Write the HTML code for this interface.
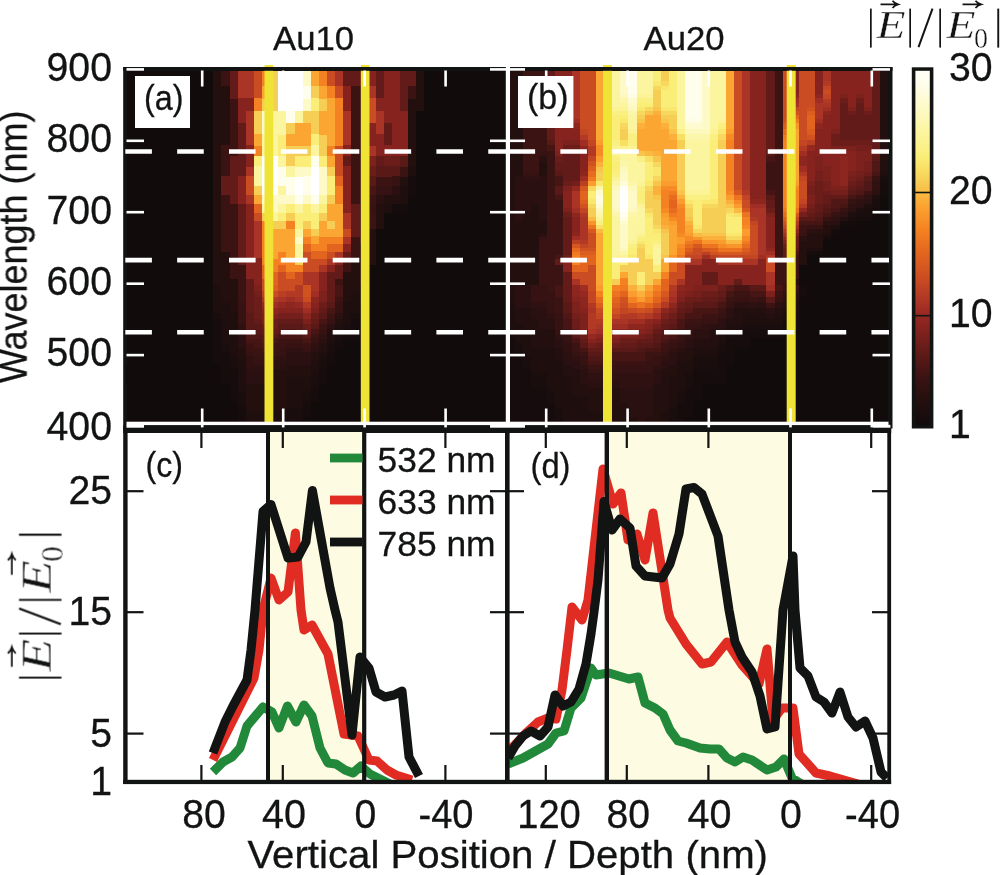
<!DOCTYPE html>
<html><head><meta charset="utf-8"><title>Figure</title>
<style>html,body{margin:0;padding:0;background:#fff;}body{width:1000px;height:875px;overflow:hidden;font-family:"Liberation Sans", sans-serif;}</style>
</head><body>
<svg width="1000" height="875" viewBox="0 0 1000 875" style="display:block">
<rect width="1000" height="875" fill="#fff"/>
<rect x="123.2" y="67" width="769.3" height="361.5" fill="#121413"/>
<g shape-rendering="crispEdges">
<path fill="#110b0c" d="M126.5 70.5h86.8v15.3h-86.8zM424.4 70.5h81.2v15.3h-81.2zM126.5 85.5h86.8v13.2h-86.8zM424.4 85.5h81.2v13.2h-81.2zM126.5 98.4h86.8v12.8h-86.8zM424.4 98.4h81.2v12.8h-81.2zM126.5 110.9h86.8v12.3h-86.8zM416.3 110.9h89.3v12.3h-89.3zM126.5 122.9h86.8v11.7h-86.8zM416.3 122.9h89.3v11.7h-89.3zM126.5 134.3h86.8v11.4h-86.8zM416.3 134.3h89.3v11.4h-89.3zM126.5 145.4h86.8v10.9h-86.8zM416.3 145.4h89.3v10.9h-89.3zM126.5 156h86.8v10.6h-86.8zM416.3 156h89.3v10.6h-89.3zM126.5 166.3h86.8v10.2h-86.8zM416.3 166.3h89.3v10.2h-89.3zM126.5 176.2h86.8v9.8h-86.8zM416.3 176.2h89.3v9.8h-89.3zM126.5 185.7h86.8v9.5h-86.8zM416.3 185.7h89.3v9.5h-89.3zM126.5 194.9h86.8v9.1h-86.8zM408.2 194.9h97.4v9.1h-97.4zM126.5 203.7h86.8v8.9h-86.8zM408.2 203.7h97.4v8.9h-97.4zM126.5 212.3h86.8v8.6h-86.8zM383.8 212.3h121.8v8.6h-121.8zM126.5 220.6h86.8v8.3h-86.8zM383.8 220.6h121.8v8.3h-121.8zM126.5 228.6h86.8v8.1h-86.8zM375.7 228.6h129.9v8.1h-129.9zM126.5 236.4h86.8v7.8h-86.8zM375.7 236.4h129.9v7.8h-129.9zM126.5 243.9h86.8v7.6h-86.8zM375.7 243.9h129.9v7.6h-129.9zM126.5 251.2h86.8v7.4h-86.8zM375.7 251.2h129.9v7.4h-129.9zM126.5 258.3h86.8v7.1h-86.8zM375.7 258.3h129.9v7.1h-129.9zM126.5 265.1h86.8v7h-86.8zM367.6 265.1h138v7h-138zM126.5 271.8h86.8v6.7h-86.8zM367.6 271.8h138v6.7h-138zM126.5 278.2h86.8v6.6h-86.8zM367.6 278.2h138v6.6h-138zM126.5 284.5h86.8v6.3h-86.8zM367.6 284.5h138v6.3h-138zM126.5 290.5h86.8v6.3h-86.8zM367.6 290.5h138v6.3h-138zM126.5 296.5h86.8v6h-86.8zM367.6 296.5h138v6h-138zM126.5 302.2h86.8v5.9h-86.8zM367.6 302.2h138v5.9h-138zM126.5 307.8h86.8v5.8h-86.8zM359.5 307.8h146.1v5.8h-146.1zM126.5 313.3h86.8v5.6h-86.8zM359.5 313.3h146.1v5.6h-146.1zM126.5 318.6h86.8v5.4h-86.8zM359.5 318.6h146.1v5.4h-146.1zM126.5 323.7h86.8v5.3h-86.8zM359.5 323.7h146.1v5.3h-146.1zM126.5 328.7h86.8v5.2h-86.8zM359.5 328.7h146.1v5.2h-146.1zM126.5 333.6h86.8v5.1h-86.8zM359.5 333.6h146.1v5.1h-146.1zM126.5 338.4h86.8v5h-86.8zM343.2 338.4h162.4v5h-162.4zM126.5 343.1h86.8v4.8h-86.8zM343.2 343.1h162.4v4.8h-162.4zM126.5 347.6h86.8v4.7h-86.8zM335.1 347.6h170.5v4.7h-170.5zM126.5 352h86.8v4.7h-86.8zM335.1 352h170.5v4.7h-170.5zM126.5 356.4h86.8v4.5h-86.8zM335.1 356.4h170.5v4.5h-170.5zM126.5 360.6h86.8v4.4h-86.8zM335.1 360.6h170.5v4.4h-170.5zM126.5 364.7h94.9v4.3h-94.9zM327 364.7h178.6v4.3h-178.6zM126.5 368.7h94.9v4.3h-94.9zM327 368.7h178.6v4.3h-178.6zM126.5 372.7h94.9v4.1h-94.9zM327 372.7h178.6v4.1h-178.6zM126.5 376.5h94.9v4.1h-94.9zM327 376.5h178.6v4.1h-178.6zM126.5 380.3h94.9v3.9h-94.9zM327 380.3h178.6v3.9h-178.6zM126.5 383.9h103.1v3.9h-103.1zM318.9 383.9h186.7v3.9h-186.7zM126.5 387.5h103.1v3.9h-103.1zM318.9 387.5h186.7v3.9h-186.7zM126.5 391.1h103.1v3.7h-103.1zM318.9 391.1h186.7v3.7h-186.7zM126.5 394.5h103.1v3.7h-103.1zM318.9 394.5h186.7v3.7h-186.7zM126.5 397.9h103.1v3.6h-103.1zM318.9 397.9h186.7v3.6h-186.7zM126.5 401.2h111.2v3.5h-111.2zM310.8 401.2h194.8v3.5h-194.8zM126.5 404.4h111.2v3.5h-111.2zM310.8 404.4h194.8v3.5h-194.8zM126.5 407.6h111.2v3.4h-111.2zM310.8 407.6h194.8v3.4h-194.8zM126.5 410.7h111.2v3.3h-111.2zM310.8 410.7h194.8v3.3h-194.8zM126.5 413.7h111.2v3.3h-111.2zM310.8 413.7h194.8v3.3h-194.8zM126.5 416.7h111.2v3.2h-111.2zM302.6 416.7h203v3.2h-203zM126.5 419.6h111.2v3.3h-111.2zM302.6 419.6h203v3.3h-203z"/>
<path fill="#240f0f" d="M213.3 70.5h8.1v15.3h-8.1zM416.3 70.5h8.1v15.3h-8.1zM213.3 85.5h16.3v13.2h-16.3zM416.3 85.5h8.1v13.2h-8.1zM213.3 98.4h16.3v12.8h-16.3zM408.2 98.4h16.2v12.8h-16.2zM213.3 110.9h16.3v12.3h-16.3zM408.2 110.9h8.1v12.3h-8.1zM213.3 122.9h16.3v11.7h-16.3zM408.2 122.9h8.1v11.7h-8.1zM213.3 134.3h16.3v11.4h-16.3zM408.2 134.3h8.1v11.4h-8.1zM213.3 145.4h8.1v10.9h-8.1zM408.2 145.4h8.1v10.9h-8.1zM213.3 156h8.1v10.6h-8.1zM408.2 156h8.1v10.6h-8.1zM213.3 166.3h8.1v10.2h-8.1zM213.3 176.2h8.1v9.8h-8.1zM400.1 176.2h8.1v9.8h-8.1zM213.3 185.7h8.1v9.5h-8.1zM213.3 194.9h8.1v9.1h-8.1zM383.8 194.9h16.3v9.1h-16.3zM213.3 203.7h8.1v8.9h-8.1zM375.7 203.7h8.1v8.9h-8.1zM213.3 212.3h8.1v8.6h-8.1zM375.7 212.3h8.1v8.6h-8.1zM213.3 220.6h8.1v8.3h-8.1zM375.7 220.6h8.1v8.3h-8.1zM213.3 228.6h8.1v8.1h-8.1zM367.6 228.6h8.1v8.1h-8.1zM213.3 236.4h8.1v7.8h-8.1zM367.6 236.4h8.1v7.8h-8.1zM213.3 243.9h8.1v7.6h-8.1zM359.5 243.9h16.2v7.6h-16.2zM213.3 251.2h16.3v7.4h-16.3zM359.5 251.2h16.2v7.4h-16.2zM213.3 258.3h16.3v7.1h-16.3zM351.4 258.3h24.3v7.1h-24.3zM213.3 265.1h16.3v7h-16.3zM351.4 265.1h16.2v7h-16.2zM213.3 271.8h16.3v6.7h-16.3zM343.2 271.8h24.4v6.7h-24.4zM213.3 278.2h24.4v6.6h-24.4zM343.2 278.2h24.4v6.6h-24.4zM221.4 284.5h16.3v6.3h-16.3zM343.2 284.5h16.3v6.3h-16.3zM221.4 290.5h16.3v6.3h-16.3zM343.2 290.5h8.2v6.3h-8.2zM221.4 296.5h16.3v6h-16.3zM343.2 296.5h8.2v6h-8.2zM229.6 302.2h8.1v5.9h-8.1zM229.6 307.8h8.1v5.8h-8.1zM335.1 318.6h8.1v5.4h-8.1zM327 328.7h8.1v5.2h-8.1zM318.9 343.1h8.1v4.8h-8.1zM237.7 347.6h8.1v4.7h-8.1zM318.9 347.6h8.1v4.7h-8.1zM237.7 352h8.1v4.7h-8.1zM310.8 352h8.1v4.7h-8.1zM237.7 356.4h8.1v4.5h-8.1zM310.8 356.4h8.1v4.5h-8.1zM286.4 364.7h24.4v4.3h-24.4zM270.2 368.7h40.6v4.3h-40.6zM270.2 372.7h40.6v4.1h-40.6zM270.2 376.5h16.2v4.1h-16.2zM270.2 380.3h16.2v3.9h-16.2zM245.8 383.9h40.6v3.9h-40.6zM245.8 387.5h40.6v3.9h-40.6zM245.8 391.1h40.6v3.7h-40.6zM245.8 394.5h40.6v3.7h-40.6zM245.8 397.9h40.6v3.6h-40.6zM245.8 401.2h40.6v3.5h-40.6zM245.8 404.4h40.6v3.5h-40.6zM245.8 407.6h40.6v3.4h-40.6z"/>
<path fill="#3c1313" d="M221.4 70.5h8.2v15.3h-8.2zM351.4 85.5h16.2v13.2h-16.2zM408.2 85.5h8.1v13.2h-8.1zM229.6 98.4h8.1v12.8h-8.1zM351.4 98.4h16.2v12.8h-16.2zM229.6 110.9h8.1v12.3h-8.1zM351.4 110.9h16.2v12.3h-16.2zM229.6 122.9h8.1v11.7h-8.1zM351.4 122.9h16.2v11.7h-16.2zM229.6 134.3h8.1v11.4h-8.1zM351.4 134.3h16.2v11.4h-16.2zM221.4 145.4h16.3v10.9h-16.3zM351.4 145.4h16.2v10.9h-16.2zM221.4 156h8.2v10.6h-8.2zM351.4 156h16.2v10.6h-16.2zM221.4 166.3h8.2v10.2h-8.2zM351.4 166.3h16.2v10.2h-16.2zM400.1 166.3h8.1v10.2h-8.1zM351.4 176.2h16.2v9.8h-16.2zM375.7 176.2h16.3v9.8h-16.3zM351.4 185.7h16.2v9.5h-16.2zM221.4 194.9h8.2v9.1h-8.2zM351.4 194.9h24.3v9.1h-24.3zM221.4 203.7h16.3v8.9h-16.3zM359.5 203.7h8.1v8.9h-8.1zM221.4 212.3h16.3v8.6h-16.3zM359.5 212.3h16.2v8.6h-16.2zM221.4 220.6h16.3v8.3h-16.3zM359.5 220.6h16.2v8.3h-16.2zM221.4 228.6h16.3v8.1h-16.3zM359.5 228.6h8.1v8.1h-8.1zM221.4 236.4h16.3v7.8h-16.3zM351.4 236.4h16.2v7.8h-16.2zM221.4 243.9h16.3v7.6h-16.3zM351.4 243.9h8.1v7.6h-8.1zM229.6 251.2h8.1v7.4h-8.1zM351.4 251.2h8.1v7.4h-8.1zM229.6 258.3h8.1v7.1h-8.1zM343.2 258.3h8.2v7.1h-8.2zM229.6 265.1h16.2v7h-16.2zM343.2 265.1h8.2v7h-8.2zM229.6 271.8h16.2v6.7h-16.2zM237.7 278.2h8.1v6.6h-8.1zM335.1 278.2h8.1v6.6h-8.1zM237.7 284.5h8.1v6.3h-8.1zM237.7 290.5h8.1v6.3h-8.1zM237.7 296.5h8.1v6h-8.1zM335.1 296.5h8.1v6h-8.1zM327 313.3h8.1v5.6h-8.1zM318.9 323.7h8.1v5.3h-8.1zM310.8 333.6h8.1v5.1h-8.1zM278.3 338.4h24.3v5h-24.3zM245.8 343.1h8.1v4.8h-8.1zM270.2 343.1h16.2v4.8h-16.2zM302.6 343.1h8.2v4.8h-8.2zM245.8 347.6h16.2v4.7h-16.2zM270.2 347.6h8.1v4.7h-8.1zM253.9 352h16.3v4.7h-16.3z"/>
<path fill="#621b18" d="M229.6 70.5h8.1v15.3h-8.1zM343.2 70.5h24.4v15.3h-24.4zM375.7 70.5h8.1v15.3h-8.1zM400.1 70.5h16.2v15.3h-16.2zM229.6 85.5h8.1v13.2h-8.1zM375.7 85.5h8.1v13.2h-8.1zM400.1 85.5h8.1v13.2h-8.1zM400.1 98.4h8.1v12.8h-8.1zM237.7 122.9h8.1v11.7h-8.1zM383.8 122.9h8.2v11.7h-8.2zM237.7 134.3h8.1v11.4h-8.1zM383.8 134.3h8.2v11.4h-8.2zM237.7 145.4h8.1v10.9h-8.1zM229.6 156h16.2v10.6h-16.2zM343.2 156h8.2v10.6h-8.2zM375.7 156h8.1v10.6h-8.1zM229.6 166.3h16.2v10.2h-16.2zM221.4 176.2h16.3v9.8h-16.3zM221.4 185.7h16.3v9.5h-16.3zM229.6 194.9h8.1v9.1h-8.1zM237.7 203.7h8.1v8.9h-8.1zM351.4 203.7h8.1v8.9h-8.1zM237.7 212.3h8.1v8.6h-8.1zM351.4 212.3h8.1v8.6h-8.1zM237.7 220.6h8.1v8.3h-8.1zM351.4 220.6h8.1v8.3h-8.1zM237.7 228.6h8.1v8.1h-8.1zM351.4 228.6h8.1v8.1h-8.1zM237.7 236.4h8.1v7.8h-8.1zM237.7 243.9h8.1v7.6h-8.1zM237.7 251.2h8.1v7.4h-8.1zM343.2 251.2h8.2v7.4h-8.2zM237.7 258.3h8.1v7.1h-8.1zM335.1 265.1h8.1v7h-8.1zM327 271.8h16.2v6.7h-16.2zM245.8 278.2h8.1v6.6h-8.1zM327 278.2h8.1v6.6h-8.1zM245.8 284.5h8.1v6.3h-8.1zM327 284.5h8.1v6.3h-8.1zM245.8 290.5h8.1v6.3h-8.1zM327 290.5h8.1v6.3h-8.1zM245.8 296.5h8.1v6h-8.1zM327 296.5h8.1v6h-8.1zM245.8 302.2h8.1v5.9h-8.1zM245.8 307.8h8.1v5.8h-8.1zM318.9 307.8h8.1v5.8h-8.1zM253.9 318.6h8.1v5.4h-8.1zM278.3 318.6h24.3v5.4h-24.3zM310.8 318.6h8.1v5.4h-8.1zM262 328.7h16.3v5.2h-16.3zM302.6 328.7h8.2v5.2h-8.2z"/>
<path fill="#aa3425" d="M237.7 70.5h16.2v15.3h-16.2zM335.1 70.5h8.1v15.3h-8.1zM237.7 85.5h16.2v13.2h-16.2zM367.6 85.5h8.1v13.2h-8.1zM245.8 110.9h8.1v12.3h-8.1zM343.2 110.9h8.2v12.3h-8.2zM375.7 110.9h8.1v12.3h-8.1zM245.8 122.9h8.1v11.7h-8.1zM343.2 122.9h8.2v11.7h-8.2zM375.7 122.9h8.1v11.7h-8.1zM245.8 134.3h8.1v11.4h-8.1zM343.2 134.3h8.2v11.4h-8.2zM367.6 145.4h8.1v10.9h-8.1zM245.8 166.3h8.1v10.2h-8.1zM245.8 194.9h8.1v9.1h-8.1zM343.2 212.3h8.2v8.6h-8.2zM253.9 220.6h8.1v8.3h-8.1zM343.2 220.6h8.2v8.3h-8.2zM253.9 228.6h8.1v8.1h-8.1zM253.9 236.4h8.1v7.8h-8.1zM343.2 236.4h8.2v7.8h-8.2zM253.9 243.9h8.1v7.6h-8.1zM253.9 251.2h8.1v7.4h-8.1zM335.1 251.2h8.1v7.4h-8.1zM327 258.3h8.1v7.1h-8.1zM318.9 265.1h8.1v7h-8.1zM302.6 271.8h16.3v6.7h-16.3zM302.6 278.2h16.3v6.6h-16.3zM310.8 284.5h8.1v6.3h-8.1zM262 296.5h8.2v6h-8.2zM278.3 296.5h8.1v6h-8.1zM294.5 296.5h8.1v6h-8.1z"/>
<path fill="#ca4c22" d="M253.9 70.5h8.1v15.3h-8.1zM327 70.5h8.1v15.3h-8.1zM253.9 85.5h8.1v13.2h-8.1zM335.1 85.5h8.1v13.2h-8.1zM367.6 98.4h8.1v12.8h-8.1zM367.6 110.9h8.1v12.3h-8.1zM335.1 145.4h8.1v10.9h-8.1zM335.1 156h8.1v10.6h-8.1zM335.1 166.3h8.1v10.2h-8.1zM245.8 176.2h8.1v9.8h-8.1zM245.8 185.7h8.1v9.5h-8.1zM253.9 212.3h8.1v8.6h-8.1zM343.2 228.6h8.2v8.1h-8.2zM302.6 251.2h8.2v7.4h-8.2zM327 251.2h8.1v7.4h-8.1zM302.6 258.3h24.4v7.1h-24.4zM302.6 265.1h16.3v7h-16.3zM278.3 271.8h8.1v6.7h-8.1zM294.5 271.8h8.1v6.7h-8.1zM262 278.2h8.2v6.6h-8.2zM278.3 278.2h24.3v6.6h-24.3zM262 284.5h8.2v6.3h-8.2zM278.3 284.5h16.2v6.3h-16.2zM270.2 290.5h8.1v6.3h-8.1zM302.6 296.5h8.2v6h-8.2z"/>
<path fill="#f58222" d="M262 70.5h8.2v15.3h-8.2zM318.9 70.5h8.1v15.3h-8.1zM327 85.5h8.1v13.2h-8.1zM253.9 98.4h8.1v12.8h-8.1zM335.1 98.4h8.1v12.8h-8.1zM335.1 110.9h8.1v12.3h-8.1zM335.1 122.9h8.1v11.7h-8.1zM335.1 134.3h8.1v11.4h-8.1zM253.9 145.4h8.1v10.9h-8.1zM327 145.4h8.1v10.9h-8.1zM335.1 185.7h8.1v9.5h-8.1zM335.1 194.9h8.1v9.1h-8.1zM262 220.6h8.2v8.3h-8.2zM286.4 220.6h8.1v8.3h-8.1zM262 228.6h8.2v8.1h-8.2zM262 236.4h8.2v7.8h-8.2zM302.6 236.4h8.2v7.8h-8.2zM318.9 236.4h24.3v7.8h-24.3zM262 243.9h8.2v7.6h-8.2zM310.8 243.9h16.2v7.6h-16.2zM262 251.2h8.2v7.4h-8.2zM278.3 251.2h8.1v7.4h-8.1zM262 258.3h32.5v7.1h-32.5zM270.2 265.1h8.1v7h-8.1zM286.4 265.1h16.2v7h-16.2z"/>
<path fill="#f6ce56" d="M270.2 70.5h8.1v15.3h-8.1zM270.2 85.5h8.1v13.2h-8.1zM310.8 85.5h8.1v13.2h-8.1zM262 98.4h16.3v12.8h-16.3zM318.9 98.4h8.1v12.8h-8.1zM253.9 110.9h8.1v12.3h-8.1zM302.6 110.9h16.3v12.3h-16.3zM253.9 122.9h8.1v11.7h-8.1zM286.4 122.9h8.1v11.7h-8.1zM310.8 122.9h8.1v11.7h-8.1zM318.9 134.3h8.1v11.4h-8.1zM286.4 145.4h24.4v10.9h-24.4zM318.9 145.4h8.1v10.9h-8.1zM286.4 156h8.1v10.6h-8.1zM327 166.3h8.1v10.2h-8.1zM253.9 185.7h8.1v9.5h-8.1zM327 194.9h8.1v9.1h-8.1zM262 212.3h8.2v8.6h-8.2zM286.4 212.3h8.1v8.6h-8.1zM318.9 212.3h8.1v8.6h-8.1zM270.2 220.6h16.2v8.3h-16.2zM302.6 220.6h8.2v8.3h-8.2zM327 220.6h8.1v8.3h-8.1zM310.8 228.6h8.1v8.1h-8.1zM294.5 258.3h8.1v7.1h-8.1z"/>
<path fill="#ffffff" d="M278.3 70.5h24.3v15.3h-24.3zM278.3 85.5h24.3v13.2h-24.3zM278.3 98.4h24.3v12.8h-24.3zM262 156h16.3v10.6h-16.3zM262 166.3h16.3v10.2h-16.3zM310.8 166.3h8.1v10.2h-8.1zM262 176.2h16.3v9.8h-16.3zM294.5 176.2h8.1v9.8h-8.1zM310.8 176.2h8.1v9.8h-8.1zM262 185.7h16.3v9.5h-16.3zM294.5 185.7h8.1v9.5h-8.1zM310.8 185.7h8.1v9.5h-8.1z"/>
<path fill="#fdfac8" d="M302.6 70.5h8.2v15.3h-8.2zM302.6 98.4h8.2v12.8h-8.2zM262 110.9h8.2v12.3h-8.2zM262 122.9h8.2v11.7h-8.2zM294.5 166.3h16.3v10.2h-16.3zM318.9 166.3h8.1v10.2h-8.1zM318.9 176.2h8.1v9.8h-8.1zM318.9 185.7h8.1v9.5h-8.1zM262 194.9h32.5v9.1h-32.5zM302.6 194.9h8.2v9.1h-8.2zM270.2 203.7h8.1v8.9h-8.1zM294.5 236.4h8.1v7.8h-8.1z"/>
<path fill="#fba532" d="M310.8 70.5h8.1v15.3h-8.1zM262 85.5h8.2v13.2h-8.2zM318.9 85.5h8.1v13.2h-8.1zM327 98.4h8.1v12.8h-8.1zM318.9 110.9h16.2v12.3h-16.2zM294.5 122.9h16.3v11.7h-16.3zM318.9 122.9h16.2v11.7h-16.2zM253.9 134.3h8.1v11.4h-8.1zM286.4 134.3h24.4v11.4h-24.4zM327 134.3h8.1v11.4h-8.1zM327 156h8.1v10.6h-8.1zM253.9 194.9h8.1v9.1h-8.1zM327 203.7h16.2v8.9h-16.2zM327 212.3h16.2v8.6h-16.2zM318.9 220.6h8.1v8.3h-8.1zM335.1 220.6h8.1v8.3h-8.1zM270.2 228.6h24.3v8.1h-24.3zM302.6 228.6h8.2v8.1h-8.2zM318.9 228.6h24.3v8.1h-24.3zM270.2 236.4h24.3v7.8h-24.3zM310.8 236.4h8.1v7.8h-8.1zM270.2 243.9h24.3v7.6h-24.3zM270.2 251.2h8.1v7.4h-8.1zM286.4 251.2h8.1v7.4h-8.1z"/>
<path fill="#86231f" d="M367.6 70.5h8.1v15.3h-8.1zM383.8 70.5h16.3v15.3h-16.3zM343.2 85.5h8.2v13.2h-8.2zM383.8 85.5h16.3v13.2h-16.3zM237.7 98.4h16.2v12.8h-16.2zM343.2 98.4h8.2v12.8h-8.2zM375.7 98.4h24.4v12.8h-24.4zM237.7 110.9h8.1v12.3h-8.1zM383.8 110.9h24.4v12.3h-24.4zM367.6 122.9h8.1v11.7h-8.1zM392 122.9h16.2v11.7h-16.2zM367.6 134.3h16.2v11.4h-16.2zM392 134.3h16.2v11.4h-16.2zM245.8 145.4h8.1v10.9h-8.1zM343.2 145.4h8.2v10.9h-8.2zM375.7 145.4h32.5v10.9h-32.5zM245.8 156h8.1v10.6h-8.1zM343.2 166.3h8.2v10.2h-8.2zM237.7 176.2h8.1v9.8h-8.1zM343.2 176.2h8.2v9.8h-8.2zM237.7 185.7h8.1v9.5h-8.1zM343.2 185.7h8.2v9.5h-8.2zM237.7 194.9h8.1v9.1h-8.1zM343.2 194.9h8.2v9.1h-8.2zM245.8 203.7h8.1v8.9h-8.1zM343.2 203.7h8.2v8.9h-8.2zM245.8 212.3h8.1v8.6h-8.1zM245.8 220.6h8.1v8.3h-8.1zM245.8 228.6h8.1v8.1h-8.1zM245.8 236.4h8.1v7.8h-8.1zM245.8 243.9h8.1v7.6h-8.1zM343.2 243.9h8.2v7.6h-8.2zM245.8 251.2h8.1v7.4h-8.1zM245.8 258.3h16.2v7.1h-16.2zM335.1 258.3h8.1v7.1h-8.1zM245.8 265.1h16.2v7h-16.2zM327 265.1h8.1v7h-8.1zM245.8 271.8h16.2v6.7h-16.2zM318.9 271.8h8.1v6.7h-8.1zM253.9 278.2h8.1v6.6h-8.1zM318.9 278.2h8.1v6.6h-8.1zM318.9 284.5h8.1v6.3h-8.1zM310.8 302.2h8.1v5.9h-8.1zM262 307.8h8.2v5.8h-8.2zM278.3 307.8h24.3v5.8h-24.3z"/>
<path fill="#fffdec" d="M302.6 85.5h8.2v13.2h-8.2zM286.4 110.9h8.1v12.3h-8.1zM310.8 156h8.1v10.6h-8.1zM278.3 166.3h8.1v10.2h-8.1zM278.3 176.2h16.2v9.8h-16.2zM302.6 176.2h8.2v9.8h-8.2zM286.4 185.7h8.1v9.5h-8.1zM302.6 185.7h8.2v9.5h-8.2zM294.5 194.9h8.1v9.1h-8.1zM310.8 194.9h8.1v9.1h-8.1z"/>
<path fill="#faee78" d="M310.8 98.4h8.1v12.8h-8.1zM278.3 134.3h8.1v11.4h-8.1zM310.8 134.3h8.1v11.4h-8.1zM278.3 145.4h8.1v10.9h-8.1zM253.9 156h8.1v10.6h-8.1zM294.5 156h16.3v10.6h-16.3zM318.9 156h8.1v10.6h-8.1zM327 176.2h8.1v9.8h-8.1zM327 185.7h8.1v9.5h-8.1zM286.4 203.7h8.1v8.9h-8.1zM302.6 203.7h8.2v8.9h-8.2zM318.9 203.7h8.1v8.9h-8.1zM278.3 212.3h8.1v8.6h-8.1zM294.5 212.3h24.4v8.6h-24.4zM294.5 220.6h8.1v8.3h-8.1zM310.8 220.6h8.1v8.3h-8.1z"/>
<path fill="#fcf5a0" d="M270.2 110.9h16.2v12.3h-16.2zM294.5 110.9h8.1v12.3h-8.1zM270.2 122.9h16.2v11.7h-16.2zM262 134.3h16.3v11.4h-16.3zM262 145.4h16.3v10.9h-16.3zM310.8 145.4h8.1v10.9h-8.1zM278.3 156h8.1v10.6h-8.1zM253.9 166.3h8.1v10.2h-8.1zM286.4 166.3h8.1v10.2h-8.1zM253.9 176.2h8.1v9.8h-8.1zM278.3 185.7h8.1v9.5h-8.1zM318.9 194.9h8.1v9.1h-8.1zM262 203.7h8.2v8.9h-8.2zM278.3 203.7h8.1v8.9h-8.1zM294.5 203.7h8.1v8.9h-8.1zM310.8 203.7h8.1v8.9h-8.1zM270.2 212.3h8.1v8.6h-8.1zM294.5 228.6h8.1v8.1h-8.1zM294.5 243.9h8.1v7.6h-8.1zM294.5 251.2h8.1v7.4h-8.1z"/>
<path fill="#7d211d" d="M367.6 156h8.1v10.6h-8.1zM253.9 284.5h8.1v6.3h-8.1zM318.9 290.5h8.1v6.3h-8.1zM318.9 296.5h8.1v6h-8.1zM310.8 307.8h8.1v5.8h-8.1zM262 313.3h16.3v5.6h-16.3zM262 318.6h8.2v5.4h-8.2zM302.6 318.6h8.2v5.4h-8.2z"/>
<path fill="#6b1d1a" d="M383.8 156h16.3v10.6h-16.3zM367.6 166.3h8.1v10.2h-8.1zM253.9 296.5h8.1v6h-8.1zM253.9 302.2h8.1v5.9h-8.1zM318.9 302.2h8.1v5.9h-8.1zM253.9 307.8h8.1v5.8h-8.1zM253.9 313.3h8.1v5.6h-8.1zM310.8 313.3h8.1v5.6h-8.1zM270.2 318.6h8.1v5.4h-8.1zM262 323.7h16.3v5.3h-16.3zM302.6 323.7h8.2v5.3h-8.2z"/>
<path fill="#581917" d="M400.1 156h8.1v10.6h-8.1zM375.7 166.3h24.4v10.2h-24.4zM367.6 176.2h8.1v9.8h-8.1zM327 302.2h8.1v5.9h-8.1zM245.8 313.3h8.1v5.6h-8.1zM318.9 313.3h8.1v5.6h-8.1zM245.8 318.6h8.1v5.4h-8.1zM245.8 323.7h16.2v5.3h-16.2zM278.3 323.7h24.3v5.3h-24.3zM310.8 323.7h8.1v5.3h-8.1zM245.8 328.7h16.2v5.2h-16.2zM278.3 328.7h8.1v5.2h-8.1zM294.5 328.7h8.1v5.2h-8.1zM262 333.6h16.3v5.1h-16.3zM302.6 333.6h8.2v5.1h-8.2zM262 338.4h8.2v5h-8.2z"/>
<path fill="#1f0e0e" d="M408.2 166.3h8.1v10.2h-8.1zM400.1 185.7h8.1v9.5h-8.1zM400.1 194.9h8.1v9.1h-8.1zM383.8 203.7h8.2v8.9h-8.2zM213.3 284.5h8.1v6.3h-8.1zM213.3 290.5h8.1v6.3h-8.1zM351.4 290.5h8.1v6.3h-8.1zM213.3 296.5h8.1v6h-8.1zM351.4 296.5h8.1v6h-8.1zM213.3 302.2h16.3v5.9h-16.3zM343.2 302.2h16.3v5.9h-16.3zM213.3 307.8h16.3v5.8h-16.3zM343.2 307.8h16.3v5.8h-16.3zM221.4 313.3h16.3v5.6h-16.3zM343.2 313.3h8.2v5.6h-8.2zM221.4 318.6h16.3v5.4h-16.3zM343.2 318.6h8.2v5.4h-8.2zM221.4 323.7h16.3v5.3h-16.3zM335.1 323.7h8.1v5.3h-8.1zM221.4 328.7h16.3v5.2h-16.3zM335.1 328.7h8.1v5.2h-8.1zM221.4 333.6h16.3v5.1h-16.3zM327 333.6h8.1v5.1h-8.1zM221.4 338.4h16.3v5h-16.3zM327 338.4h8.1v5h-8.1zM229.6 343.1h8.1v4.8h-8.1zM229.6 347.6h8.1v4.7h-8.1zM229.6 352h8.1v4.7h-8.1zM318.9 352h8.1v4.7h-8.1zM237.7 360.6h8.1v4.4h-8.1zM310.8 360.6h8.1v4.4h-8.1zM237.7 364.7h8.1v4.3h-8.1zM310.8 364.7h8.1v4.3h-8.1zM237.7 368.7h8.1v4.3h-8.1zM310.8 368.7h8.1v4.3h-8.1zM237.7 372.7h8.1v4.1h-8.1zM237.7 376.5h8.1v4.1h-8.1zM286.4 376.5h24.4v4.1h-24.4zM237.7 380.3h8.1v3.9h-8.1zM286.4 380.3h24.4v3.9h-24.4zM237.7 383.9h8.1v3.9h-8.1zM286.4 383.9h24.4v3.9h-24.4zM237.7 387.5h8.1v3.9h-8.1zM286.4 387.5h24.4v3.9h-24.4zM286.4 391.1h16.2v3.7h-16.2zM286.4 394.5h16.2v3.7h-16.2zM286.4 397.9h16.2v3.6h-16.2zM286.4 401.2h16.2v3.5h-16.2zM286.4 404.4h16.2v3.5h-16.2zM245.8 410.7h40.6v3.3h-40.6zM245.8 413.7h40.6v3.3h-40.6zM245.8 416.7h40.6v3.2h-40.6zM245.8 419.6h40.6v3.3h-40.6z"/>
<path fill="#e2641e" d="M335.1 176.2h8.1v9.8h-8.1zM253.9 203.7h8.1v8.9h-8.1zM302.6 243.9h8.2v7.6h-8.2zM327 243.9h16.2v7.6h-16.2zM310.8 251.2h16.2v7.4h-16.2zM262 265.1h8.2v7h-8.2zM278.3 265.1h8.1v7h-8.1zM262 271.8h16.3v6.7h-16.3zM286.4 271.8h8.1v6.7h-8.1zM270.2 278.2h8.1v6.6h-8.1z"/>
<path fill="#361212" d="M392 176.2h8.1v9.8h-8.1zM375.7 185.7h16.3v9.5h-16.3zM367.6 203.7h8.1v8.9h-8.1zM237.7 302.2h8.1v5.9h-8.1zM335.1 302.2h8.1v5.9h-8.1zM237.7 307.8h8.1v5.8h-8.1zM335.1 307.8h8.1v5.8h-8.1zM237.7 313.3h8.1v5.6h-8.1zM237.7 318.6h8.1v5.4h-8.1zM327 318.6h8.1v5.4h-8.1zM318.9 328.7h8.1v5.2h-8.1zM310.8 338.4h8.1v5h-8.1zM286.4 343.1h16.2v4.8h-16.2zM278.3 347.6h8.1v4.7h-8.1zM302.6 347.6h8.2v4.7h-8.2zM245.8 352h8.1v4.7h-8.1zM270.2 352h16.2v4.7h-16.2zM253.9 356.4h16.3v4.5h-16.3zM253.9 360.6h16.3v4.4h-16.3z"/>
<path fill="#160c0d" d="M408.2 176.2h8.1v9.8h-8.1zM408.2 185.7h8.1v9.5h-8.1zM392 203.7h16.2v8.9h-16.2zM359.5 284.5h8.1v6.3h-8.1zM359.5 290.5h8.1v6.3h-8.1zM359.5 296.5h8.1v6h-8.1zM359.5 302.2h8.1v5.9h-8.1zM213.3 318.6h8.1v5.4h-8.1zM351.4 318.6h8.1v5.4h-8.1zM213.3 323.7h8.1v5.3h-8.1zM351.4 323.7h8.1v5.3h-8.1zM213.3 328.7h8.1v5.2h-8.1zM343.2 328.7h16.3v5.2h-16.3zM213.3 333.6h8.1v5.1h-8.1zM343.2 333.6h16.3v5.1h-16.3zM213.3 338.4h8.1v5h-8.1zM335.1 338.4h8.1v5h-8.1zM213.3 343.1h8.1v4.8h-8.1zM335.1 343.1h8.1v4.8h-8.1zM213.3 347.6h8.1v4.7h-8.1zM213.3 352h16.3v4.7h-16.3zM327 352h8.1v4.7h-8.1zM213.3 356.4h16.3v4.5h-16.3zM327 356.4h8.1v4.5h-8.1zM213.3 360.6h16.3v4.4h-16.3zM327 360.6h8.1v4.4h-8.1zM221.4 364.7h8.2v4.3h-8.2zM221.4 368.7h16.3v4.3h-16.3zM318.9 368.7h8.1v4.3h-8.1zM221.4 372.7h16.3v4.1h-16.3zM318.9 372.7h8.1v4.1h-8.1zM221.4 376.5h16.3v4.1h-16.3zM318.9 376.5h8.1v4.1h-8.1zM221.4 380.3h16.3v3.9h-16.3zM318.9 380.3h8.1v3.9h-8.1zM229.6 383.9h8.1v3.9h-8.1zM229.6 387.5h8.1v3.9h-8.1zM310.8 387.5h8.1v3.9h-8.1zM229.6 391.1h8.1v3.7h-8.1zM310.8 391.1h8.1v3.7h-8.1zM229.6 394.5h8.1v3.7h-8.1zM310.8 394.5h8.1v3.7h-8.1zM229.6 397.9h8.1v3.6h-8.1zM310.8 397.9h8.1v3.6h-8.1zM237.7 404.4h8.1v3.5h-8.1zM302.6 404.4h8.2v3.5h-8.2zM237.7 407.6h8.1v3.4h-8.1zM302.6 407.6h8.2v3.4h-8.2zM237.7 410.7h8.1v3.3h-8.1zM302.6 410.7h8.2v3.3h-8.2zM237.7 413.7h8.1v3.3h-8.1zM302.6 413.7h8.2v3.3h-8.2zM237.7 416.7h8.1v3.2h-8.1zM237.7 419.6h8.1v3.3h-8.1zM286.4 419.6h16.2v3.3h-16.2z"/>
<path fill="#461514" d="M367.6 185.7h8.1v9.5h-8.1zM335.1 284.5h8.1v6.3h-8.1zM335.1 290.5h8.1v6.3h-8.1zM327 307.8h8.1v5.8h-8.1zM318.9 318.6h8.1v5.4h-8.1zM286.4 328.7h8.1v5.2h-8.1zM310.8 328.7h8.1v5.2h-8.1zM278.3 333.6h24.3v5.1h-24.3zM245.8 338.4h16.2v5h-16.2zM270.2 338.4h8.1v5h-8.1zM302.6 338.4h8.2v5h-8.2zM253.9 343.1h8.1v4.8h-8.1zM262 347.6h8.2v4.7h-8.2z"/>
<path fill="#2a1010" d="M392 185.7h8.1v9.5h-8.1zM375.7 194.9h8.1v9.1h-8.1zM335.1 313.3h8.1v5.6h-8.1zM327 323.7h8.1v5.3h-8.1zM237.7 328.7h8.1v5.2h-8.1zM237.7 333.6h8.1v5.1h-8.1zM237.7 338.4h8.1v5h-8.1zM318.9 338.4h8.1v5h-8.1zM237.7 343.1h8.1v4.8h-8.1zM310.8 347.6h8.1v4.7h-8.1zM286.4 352h24.4v4.7h-24.4zM286.4 356.4h24.4v4.5h-24.4zM270.2 360.6h40.6v4.4h-40.6zM270.2 364.7h16.2v4.3h-16.2zM245.8 368.7h24.4v4.3h-24.4zM245.8 372.7h24.4v4.1h-24.4zM245.8 376.5h24.4v4.1h-24.4zM245.8 380.3h24.4v3.9h-24.4z"/>
<path fill="#dc5e1f" d="M270.2 284.5h8.1v6.3h-8.1z"/>
<path fill="#b23a24" d="M294.5 284.5h8.1v6.3h-8.1zM286.4 290.5h16.2v6.3h-16.2zM270.2 296.5h8.1v6h-8.1zM302.6 302.2h8.2v5.9h-8.2z"/>
<path fill="#d05221" d="M302.6 284.5h8.2v6.3h-8.2zM302.6 290.5h8.2v6.3h-8.2z"/>
<path fill="#741f1c" d="M253.9 290.5h8.1v6.3h-8.1zM278.3 313.3h24.3v5.6h-24.3z"/>
<path fill="#ba4024" d="M262 290.5h8.2v6.3h-8.2zM278.3 290.5h8.1v6.3h-8.1z"/>
<path fill="#a02e24" d="M310.8 290.5h8.1v6.3h-8.1zM286.4 296.5h8.1v6h-8.1zM270.2 302.2h8.1v5.9h-8.1zM302.6 307.8h8.2v5.8h-8.2z"/>
<path fill="#8e2620" d="M310.8 296.5h8.1v6h-8.1zM286.4 302.2h8.1v5.9h-8.1zM270.2 307.8h8.1v5.8h-8.1zM302.6 313.3h8.2v5.6h-8.2z"/>
<path fill="#962822" d="M262 302.2h8.2v5.9h-8.2zM278.3 302.2h8.1v5.9h-8.1zM294.5 302.2h8.1v5.9h-8.1z"/>
<path fill="#1a0d0e" d="M213.3 313.3h8.1v5.6h-8.1zM351.4 313.3h8.1v5.6h-8.1zM343.2 323.7h8.2v5.3h-8.2zM335.1 333.6h8.1v5.1h-8.1zM221.4 343.1h8.2v4.8h-8.2zM327 343.1h8.1v4.8h-8.1zM221.4 347.6h8.2v4.7h-8.2zM327 347.6h8.1v4.7h-8.1zM229.6 356.4h8.1v4.5h-8.1zM318.9 356.4h8.1v4.5h-8.1zM229.6 360.6h8.1v4.4h-8.1zM318.9 360.6h8.1v4.4h-8.1zM229.6 364.7h8.1v4.3h-8.1zM318.9 364.7h8.1v4.3h-8.1zM310.8 372.7h8.1v4.1h-8.1zM310.8 376.5h8.1v4.1h-8.1zM310.8 380.3h8.1v3.9h-8.1zM310.8 383.9h8.1v3.9h-8.1zM237.7 391.1h8.1v3.7h-8.1zM302.6 391.1h8.2v3.7h-8.2zM237.7 394.5h8.1v3.7h-8.1zM302.6 394.5h8.2v3.7h-8.2zM237.7 397.9h8.1v3.6h-8.1zM302.6 397.9h8.2v3.6h-8.2zM237.7 401.2h8.1v3.5h-8.1zM302.6 401.2h8.2v3.5h-8.2zM286.4 407.6h16.2v3.4h-16.2zM286.4 410.7h16.2v3.3h-16.2zM286.4 413.7h16.2v3.3h-16.2zM286.4 416.7h16.2v3.2h-16.2z"/>
<path fill="#301111" d="M237.7 323.7h8.1v5.3h-8.1zM318.9 333.6h8.1v5.1h-8.1zM310.8 343.1h8.1v4.8h-8.1zM286.4 347.6h16.2v4.7h-16.2zM245.8 356.4h8.1v4.5h-8.1zM270.2 356.4h16.2v4.5h-16.2zM245.8 360.6h8.1v4.4h-8.1zM245.8 364.7h24.4v4.3h-24.4z"/>
<path fill="#4f1716" d="M245.8 333.6h16.2v5.1h-16.2zM262 343.1h8.2v4.8h-8.2z"/>
<path fill="#240f0f" d="M509.8 70.5h13v5.3h-13zM880.1 70.5h8.1v5.3h-8.1zM509.8 75.5h13v5.3h-13zM880.1 75.5h8.1v5.3h-8.1zM509.8 80.5h13v5.3h-13zM880.1 80.5h8.1v5.3h-8.1zM509.8 85.5h13v4.6h-13zM880.1 85.5h8.1v4.6h-8.1zM509.8 89.8h13v4.6h-13zM880.1 89.8h8.1v4.6h-8.1zM509.8 94.1h13v4.6h-13zM880.1 94.1h8.1v4.6h-8.1zM509.8 98.4h13v4.5h-13zM880.1 98.4h8.1v4.5h-8.1zM509.8 102.6h13v4.4h-13zM880.1 102.6h8.1v4.4h-8.1zM509.8 106.7h13v4.5h-13zM880.1 106.7h8.1v4.5h-8.1zM509.8 110.9h13v4.3h-13zM880.1 110.9h8.1v4.3h-8.1zM509.8 114.9h13v4.3h-13zM880.1 114.9h8.1v4.3h-8.1zM509.8 118.9h13v4.3h-13zM880.1 118.9h8.1v4.3h-8.1zM509.8 122.9h13v6h-13zM880.1 122.9h8.1v6h-8.1zM509.8 128.6h13v6h-13zM880.1 128.6h8.1v6h-8.1zM509.8 134.3h13v5.9h-13zM880.1 134.3h8.1v5.9h-8.1zM509.8 139.9h13v5.8h-13zM880.1 139.9h8.1v5.8h-8.1zM509.8 145.4h13v5.6h-13zM880.1 145.4h8.1v5.6h-8.1zM509.8 150.7h13v5.6h-13zM880.1 150.7h8.1v5.6h-8.1zM509.8 156h13v5.5h-13zM880.1 156h8.1v5.5h-8.1zM509.8 161.2h13v5.4h-13zM539.1 161.2h8.1v5.4h-8.1zM880.1 161.2h8.1v5.4h-8.1zM509.8 166.3h13v5.2h-13zM539.1 166.3h8.1v5.2h-8.1zM880.1 166.3h8.1v5.2h-8.1zM509.8 171.2h13v5.3h-13zM539.1 171.2h8.1v5.3h-8.1zM509.8 176.2h4.9v5h-4.9zM509.8 180.9h4.9v5.1h-4.9zM509.8 185.7h4.9v4.9h-4.9zM509.8 190.3h4.9v4.9h-4.9zM509.8 194.9h4.9v4.7h-4.9zM509.8 199.3h4.9v4.7h-4.9zM509.8 203.7h4.9v4.6h-4.9zM531 203.7h8.1v4.6h-8.1zM509.8 208h4.9v4.6h-4.9zM531 208h8.1v4.6h-8.1zM509.8 212.3h4.9v4.5h-4.9zM522.8 212.3h16.3v4.5h-16.3zM509.8 216.5h4.9v4.4h-4.9zM522.8 216.5h16.3v4.4h-16.3zM839.5 216.5h8.1v4.4h-8.1zM509.8 220.6h37.4v4.3h-37.4zM509.8 224.6h37.4v4.3h-37.4zM823.3 224.6h8.1v4.3h-8.1zM509.8 228.6h37.4v4.2h-37.4zM823.3 228.6h8.1v4.2h-8.1zM509.8 232.5h29.3v4.2h-29.3zM807 232.5h16.3v4.2h-16.3zM509.8 236.4h29.3v4.1h-29.3zM807 236.4h16.3v4.1h-16.3zM509.8 240.2h29.3v4h-29.3zM798.9 240.2h24.4v4h-24.4zM509.8 243.9h29.3v4h-29.3zM798.9 243.9h24.4v4h-24.4zM509.8 247.6h29.3v3.9h-29.3zM798.9 247.6h8.1v3.9h-8.1zM509.8 251.2h29.3v3.8h-29.3zM798.9 251.2h8.1v3.8h-8.1zM509.8 254.7h29.3v3.9h-29.3zM798.9 254.7h8.1v3.9h-8.1zM509.8 258.3h29.3v7.1h-29.3zM798.9 258.3h8.1v7.1h-8.1zM509.8 265.1h29.3v7h-29.3zM509.8 271.8h29.3v6.7h-29.3zM509.8 278.2h29.3v6.6h-29.3zM790.8 278.2h8.1v6.6h-8.1zM509.8 284.5h4.9v6.3h-4.9zM509.8 290.5h4.9v6.3h-4.9zM509.8 296.5h4.9v6h-4.9zM790.8 296.5h8.1v6h-8.1zM782.7 302.2h8.1v5.9h-8.1zM514.7 307.8h16.3v5.8h-16.3zM734 307.8h32.4v5.8h-32.4zM774.6 307.8h8.1v5.8h-8.1zM514.7 313.3h16.3v5.6h-16.3zM734 313.3h8.1v5.6h-8.1zM766.4 313.3h8.2v5.6h-8.2zM514.7 318.6h24.4v5.4h-24.4zM725.8 318.6h16.3v5.4h-16.3zM522.8 323.7h16.3v5.3h-16.3zM522.8 328.7h32.5v5.2h-32.5zM709.6 328.7h16.2v5.2h-16.2zM531 333.6h24.3v5.1h-24.3zM709.6 333.6h8.1v5.1h-8.1zM531 338.4h24.3v5h-24.3zM693.4 338.4h24.3v5h-24.3zM531 343.1h24.3v4.8h-24.3zM693.4 343.1h24.3v4.8h-24.3zM555.3 347.6h8.1v4.7h-8.1zM685.2 347.6h8.2v4.7h-8.2zM555.3 352h8.1v4.7h-8.1zM677.1 352h16.3v4.7h-16.3zM555.3 356.4h8.1v4.5h-8.1zM677.1 356.4h16.3v4.5h-16.3zM563.4 364.7h8.2v4.3h-8.2zM669 364.7h8.1v4.3h-8.1zM563.4 368.7h16.3v4.3h-16.3zM660.9 368.7h16.2v4.3h-16.2zM563.4 372.7h16.3v4.1h-16.3zM660.9 372.7h16.2v4.1h-16.2zM571.6 376.5h8.1v4.1h-8.1zM660.9 376.5h8.1v4.1h-8.1zM571.6 380.3h8.1v3.9h-8.1zM660.9 380.3h8.1v3.9h-8.1zM571.6 383.9h16.2v3.9h-16.2zM652.8 383.9h16.2v3.9h-16.2zM571.6 387.5h48.7v3.9h-48.7zM652.8 387.5h16.2v3.9h-16.2zM571.6 391.1h48.7v3.7h-48.7zM652.8 391.1h16.2v3.7h-16.2zM587.8 394.5h32.5v3.7h-32.5zM652.8 394.5h16.2v3.7h-16.2zM587.8 397.9h32.5v3.6h-32.5zM652.8 397.9h16.2v3.6h-16.2zM587.8 401.2h40.6v3.5h-40.6zM652.8 401.2h16.2v3.5h-16.2zM587.8 404.4h40.6v3.5h-40.6zM652.8 404.4h16.2v3.5h-16.2zM587.8 407.6h40.6v3.4h-40.6zM652.8 407.6h16.2v3.4h-16.2zM604 410.7h24.4v3.3h-24.4zM652.8 410.7h8.1v3.3h-8.1zM604 413.7h24.4v3.3h-24.4zM652.8 413.7h8.1v3.3h-8.1zM604 416.7h32.5v3.2h-32.5zM644.6 416.7h16.3v3.2h-16.3zM604 419.6h32.5v3.3h-32.5zM644.6 419.6h16.3v3.3h-16.3z"/>
<path fill="#3c1313" d="M522.8 70.5h24.4v5.3h-24.4zM774.6 70.5h8.1v5.3h-8.1zM522.8 75.5h24.4v5.3h-24.4zM774.6 75.5h8.1v5.3h-8.1zM522.8 80.5h24.4v5.3h-24.4zM774.6 80.5h8.1v5.3h-8.1zM522.8 85.5h24.4v4.6h-24.4zM774.6 85.5h8.1v4.6h-8.1zM522.8 89.8h24.4v4.6h-24.4zM774.6 89.8h8.1v4.6h-8.1zM522.8 94.1h24.4v4.6h-24.4zM774.6 94.1h8.1v4.6h-8.1zM522.8 98.4h24.4v4.5h-24.4zM774.6 98.4h8.1v4.5h-8.1zM522.8 102.6h24.4v4.4h-24.4zM774.6 102.6h8.1v4.4h-8.1zM522.8 106.7h24.4v4.5h-24.4zM774.6 106.7h8.1v4.5h-8.1zM522.8 110.9h24.4v4.3h-24.4zM774.6 110.9h8.1v4.3h-8.1zM522.8 114.9h24.4v4.3h-24.4zM774.6 114.9h8.1v4.3h-8.1zM522.8 118.9h24.4v4.3h-24.4zM774.6 118.9h8.1v4.3h-8.1zM522.8 122.9h24.4v6h-24.4zM774.6 122.9h8.1v6h-8.1zM522.8 128.6h24.4v6h-24.4zM774.6 128.6h8.1v6h-8.1zM522.8 134.3h24.4v5.9h-24.4zM774.6 134.3h8.1v5.9h-8.1zM522.8 139.9h24.4v5.8h-24.4zM774.6 139.9h8.1v5.8h-8.1zM522.8 145.4h24.4v5.6h-24.4zM774.6 145.4h8.1v5.6h-8.1zM522.8 150.7h16.3v5.6h-16.3zM547.2 150.7h8.1v5.6h-8.1zM774.6 150.7h8.1v5.6h-8.1zM522.8 156h16.3v5.5h-16.3zM547.2 156h8.1v5.5h-8.1zM774.6 156h8.1v5.5h-8.1zM522.8 161.2h16.3v5.4h-16.3zM547.2 161.2h8.1v5.4h-8.1zM766.4 161.2h16.3v5.4h-16.3zM522.8 166.3h16.3v5.2h-16.3zM547.2 166.3h8.1v5.2h-8.1zM766.4 166.3h16.3v5.2h-16.3zM547.2 171.2h8.1v5.3h-8.1zM766.4 171.2h16.3v5.3h-16.3zM547.2 176.2h8.1v5h-8.1zM766.4 176.2h16.3v5h-16.3zM547.2 180.9h8.1v5.1h-8.1zM766.4 180.9h16.3v5.1h-16.3zM547.2 185.7h8.1v4.9h-8.1zM766.4 185.7h16.3v4.9h-16.3zM547.2 190.3h8.1v4.9h-8.1zM774.6 190.3h8.1v4.9h-8.1zM863.9 190.3h8.1v4.9h-8.1zM547.2 194.9h8.1v4.7h-8.1zM774.6 194.9h8.1v4.7h-8.1zM855.8 194.9h8.1v4.7h-8.1zM547.2 199.3h16.2v4.7h-16.2zM774.6 199.3h8.1v4.7h-8.1zM547.2 203.7h16.2v4.6h-16.2zM774.6 203.7h8.1v4.6h-8.1zM547.2 208h16.2v4.6h-16.2zM774.6 208h8.1v4.6h-8.1zM547.2 212.3h16.2v4.5h-16.2zM774.6 212.3h8.1v4.5h-8.1zM547.2 216.5h16.2v4.4h-16.2zM774.6 216.5h8.1v4.4h-8.1zM547.2 220.6h16.2v4.3h-16.2zM774.6 220.6h8.1v4.3h-8.1zM547.2 224.6h16.2v4.3h-16.2zM774.6 224.6h8.1v4.3h-8.1zM798.9 224.6h8.1v4.3h-8.1zM547.2 228.6h16.2v4.2h-16.2zM774.6 228.6h8.1v4.2h-8.1zM798.9 228.6h8.1v4.2h-8.1zM547.2 232.5h16.2v4.2h-16.2zM774.6 232.5h8.1v4.2h-8.1zM547.2 236.4h16.2v4.1h-16.2zM774.6 236.4h8.1v4.1h-8.1zM539.1 240.2h24.3v4h-24.3zM774.6 240.2h8.1v4h-8.1zM539.1 243.9h24.3v4h-24.3zM774.6 243.9h8.1v4h-8.1zM539.1 247.6h24.3v3.9h-24.3zM774.6 247.6h8.1v3.9h-8.1zM539.1 251.2h24.3v3.8h-24.3zM774.6 251.2h8.1v3.8h-8.1zM539.1 254.7h16.2v3.9h-16.2zM774.6 254.7h8.1v3.9h-8.1zM790.8 254.7h8.1v3.9h-8.1zM539.1 258.3h16.2v7.1h-16.2zM774.6 258.3h24.3v7.1h-24.3zM539.1 265.1h24.3v7h-24.3zM774.6 265.1h24.3v7h-24.3zM539.1 271.8h24.3v6.7h-24.3zM774.6 271.8h24.3v6.7h-24.3zM539.1 278.2h24.3v6.6h-24.3zM774.6 278.2h16.2v6.6h-16.2zM547.2 284.5h8.1v6.3h-8.1zM734 290.5h16.2v6.3h-16.2zM774.6 290.5h8.1v6.3h-8.1zM555.3 296.5h8.1v6h-8.1zM725.8 296.5h8.2v6h-8.2zM750.2 296.5h8.1v6h-8.1zM555.3 302.2h8.1v5.9h-8.1zM766.4 302.2h8.2v5.9h-8.2zM555.3 307.8h8.1v5.8h-8.1zM717.7 307.8h8.1v5.8h-8.1zM701.5 313.3h16.2v5.6h-16.2zM685.2 318.6h16.3v5.4h-16.3zM563.4 328.7h8.2v5.2h-8.2zM677.1 328.7h8.1v5.2h-8.1zM669 338.4h8.1v5h-8.1zM571.6 343.1h8.1v4.8h-8.1zM660.9 343.1h8.1v4.8h-8.1zM571.6 347.6h8.1v4.7h-8.1zM660.9 347.6h8.1v4.7h-8.1zM579.7 352h8.1v4.7h-8.1zM644.6 352h16.3v4.7h-16.3zM644.6 356.4h8.2v4.5h-8.2zM612.2 360.6h32.4v4.4h-32.4zM587.8 364.7h24.4v4.3h-24.4z"/>
<path fill="#621b18" d="M547.2 70.5h8.1v5.3h-8.1zM766.4 70.5h8.2v5.3h-8.2zM872 70.5h8.1v5.3h-8.1zM547.2 75.5h8.1v5.3h-8.1zM766.4 75.5h8.2v5.3h-8.2zM872 75.5h8.1v5.3h-8.1zM547.2 80.5h8.1v5.3h-8.1zM766.4 80.5h8.2v5.3h-8.2zM872 80.5h8.1v5.3h-8.1zM547.2 85.5h8.1v4.6h-8.1zM766.4 85.5h8.2v4.6h-8.2zM872 85.5h8.1v4.6h-8.1zM547.2 89.8h8.1v4.6h-8.1zM766.4 89.8h8.2v4.6h-8.2zM872 89.8h8.1v4.6h-8.1zM547.2 94.1h8.1v4.6h-8.1zM766.4 94.1h8.2v4.6h-8.2zM872 94.1h8.1v4.6h-8.1zM547.2 98.4h8.1v4.5h-8.1zM766.4 98.4h8.2v4.5h-8.2zM872 98.4h8.1v4.5h-8.1zM547.2 102.6h8.1v4.4h-8.1zM766.4 102.6h8.2v4.4h-8.2zM839.5 102.6h8.1v4.4h-8.1zM855.8 102.6h8.1v4.4h-8.1zM872 102.6h8.1v4.4h-8.1zM547.2 106.7h8.1v4.5h-8.1zM766.4 106.7h8.2v4.5h-8.2zM839.5 106.7h8.1v4.5h-8.1zM855.8 106.7h8.1v4.5h-8.1zM872 106.7h8.1v4.5h-8.1zM547.2 110.9h8.1v4.3h-8.1zM766.4 110.9h8.2v4.3h-8.2zM839.5 110.9h8.1v4.3h-8.1zM855.8 110.9h8.1v4.3h-8.1zM872 110.9h8.1v4.3h-8.1zM547.2 114.9h8.1v4.3h-8.1zM766.4 114.9h8.2v4.3h-8.2zM839.5 114.9h40.6v4.3h-40.6zM547.2 118.9h8.1v4.3h-8.1zM766.4 118.9h8.2v4.3h-8.2zM839.5 118.9h40.6v4.3h-40.6zM547.2 122.9h8.1v6h-8.1zM766.4 122.9h8.2v6h-8.2zM839.5 122.9h40.6v6h-40.6zM547.2 128.6h8.1v6h-8.1zM766.4 128.6h8.2v6h-8.2zM839.5 128.6h40.6v6h-40.6zM547.2 134.3h8.1v5.9h-8.1zM766.4 134.3h8.2v5.9h-8.2zM839.5 134.3h40.6v5.9h-40.6zM766.4 139.9h8.2v5.8h-8.2zM872 139.9h8.1v5.8h-8.1zM766.4 145.4h8.2v5.6h-8.2zM872 145.4h8.1v5.6h-8.1zM563.4 150.7h16.3v5.6h-16.3zM872 150.7h8.1v5.6h-8.1zM563.4 156h16.3v5.5h-16.3zM555.3 161.2h24.4v5.4h-24.4zM555.3 166.3h24.4v5.2h-24.4zM563.4 171.2h16.3v5.3h-16.3zM563.4 176.2h16.3v5h-16.3zM855.8 180.9h8.1v5.1h-8.1zM847.6 185.7h8.2v4.9h-8.2zM823.3 194.9h24.3v4.7h-24.3zM766.4 199.3h8.2v4.7h-8.2zM823.3 199.3h8.1v4.7h-8.1zM766.4 203.7h8.2v4.6h-8.2zM815.2 203.7h8.1v4.6h-8.1zM815.2 208h8.1v4.6h-8.1zM807 212.3h8.2v4.5h-8.2zM563.4 216.5h8.2v4.4h-8.2zM563.4 220.6h8.2v4.3h-8.2zM563.4 224.6h8.2v4.3h-8.2zM563.4 228.6h8.2v4.2h-8.2zM563.4 232.5h8.2v4.2h-8.2zM563.4 236.4h8.2v4.1h-8.2zM563.4 240.2h8.2v4h-8.2zM790.8 240.2h8.1v4h-8.1zM563.4 243.9h8.2v4h-8.2zM790.8 243.9h8.1v4h-8.1zM563.4 247.6h8.2v3.9h-8.2zM782.7 247.6h8.1v3.9h-8.1zM563.4 251.2h8.2v3.8h-8.2zM782.7 251.2h8.1v3.8h-8.1zM555.3 258.3h8.1v7.1h-8.1zM563.4 271.8h8.2v6.7h-8.2zM701.5 271.8h16.2v6.7h-16.2zM563.4 278.2h8.2v6.6h-8.2zM701.5 278.2h16.2v6.6h-16.2zM734 278.2h8.1v6.6h-8.1zM563.4 284.5h8.2v6.3h-8.2zM563.4 290.5h8.2v6.3h-8.2zM717.7 290.5h8.1v6.3h-8.1zM563.4 296.5h8.2v6h-8.2zM701.5 296.5h16.2v6h-16.2zM685.2 302.2h8.2v5.9h-8.2zM677.1 307.8h8.1v5.8h-8.1zM669 318.6h8.1v5.4h-8.1zM660.9 323.7h8.1v5.3h-8.1zM571.6 328.7h8.1v5.2h-8.1zM652.8 328.7h8.1v5.2h-8.1zM579.7 338.4h8.1v5h-8.1zM636.5 338.4h16.3v5h-16.3zM620.3 343.1h16.2v4.8h-16.2zM587.8 347.6h24.4v4.7h-24.4z"/>
<path fill="#86231f" d="M555.3 70.5h16.3v5.3h-16.3zM750.2 70.5h16.2v5.3h-16.2zM790.8 70.5h8.1v5.3h-8.1zM815.2 70.5h8.1v5.3h-8.1zM831.4 70.5h40.6v5.3h-40.6zM555.3 75.5h16.3v5.3h-16.3zM750.2 75.5h16.2v5.3h-16.2zM790.8 75.5h8.1v5.3h-8.1zM815.2 75.5h8.1v5.3h-8.1zM831.4 75.5h40.6v5.3h-40.6zM555.3 80.5h16.3v5.3h-16.3zM750.2 80.5h16.2v5.3h-16.2zM790.8 80.5h8.1v5.3h-8.1zM815.2 80.5h8.1v5.3h-8.1zM831.4 80.5h40.6v5.3h-40.6zM555.3 85.5h16.3v4.6h-16.3zM750.2 85.5h16.2v4.6h-16.2zM790.8 85.5h8.1v4.6h-8.1zM815.2 85.5h8.1v4.6h-8.1zM831.4 85.5h40.6v4.6h-40.6zM555.3 89.8h16.3v4.6h-16.3zM750.2 89.8h16.2v4.6h-16.2zM790.8 89.8h8.1v4.6h-8.1zM815.2 89.8h8.1v4.6h-8.1zM831.4 89.8h40.6v4.6h-40.6zM555.3 94.1h16.3v4.6h-16.3zM750.2 94.1h16.2v4.6h-16.2zM831.4 94.1h8.1v4.6h-8.1zM847.6 94.1h8.2v4.6h-8.2zM863.9 94.1h8.1v4.6h-8.1zM555.3 98.4h16.3v4.5h-16.3zM750.2 98.4h16.2v4.5h-16.2zM831.4 98.4h8.1v4.5h-8.1zM847.6 98.4h8.2v4.5h-8.2zM863.9 98.4h8.1v4.5h-8.1zM555.3 102.6h16.3v4.4h-16.3zM750.2 102.6h16.2v4.4h-16.2zM831.4 102.6h8.1v4.4h-8.1zM847.6 102.6h8.2v4.4h-8.2zM863.9 102.6h8.1v4.4h-8.1zM555.3 106.7h16.3v4.5h-16.3zM750.2 106.7h16.2v4.5h-16.2zM831.4 106.7h8.1v4.5h-8.1zM555.3 110.9h16.3v4.3h-16.3zM750.2 110.9h16.2v4.3h-16.2zM831.4 110.9h8.1v4.3h-8.1zM555.3 114.9h16.3v4.3h-16.3zM750.2 114.9h16.2v4.3h-16.2zM823.3 114.9h16.2v4.3h-16.2zM555.3 118.9h16.3v4.3h-16.3zM750.2 118.9h16.2v4.3h-16.2zM823.3 118.9h16.2v4.3h-16.2zM555.3 122.9h16.3v6h-16.3zM750.2 122.9h16.2v6h-16.2zM823.3 122.9h16.2v6h-16.2zM555.3 128.6h24.4v6h-24.4zM750.2 128.6h16.2v6h-16.2zM815.2 128.6h16.2v6h-16.2zM555.3 134.3h24.4v5.9h-24.4zM750.2 134.3h16.2v5.9h-16.2zM815.2 134.3h16.2v5.9h-16.2zM555.3 139.9h8.1v5.8h-8.1zM750.2 139.9h16.2v5.8h-16.2zM815.2 139.9h16.2v5.8h-16.2zM555.3 145.4h8.1v5.6h-8.1zM750.2 145.4h16.2v5.6h-16.2zM815.2 145.4h16.2v5.6h-16.2zM579.7 150.7h8.1v5.6h-8.1zM750.2 150.7h16.2v5.6h-16.2zM807 150.7h48.8v5.6h-48.8zM579.7 156h8.1v5.5h-8.1zM750.2 156h16.2v5.5h-16.2zM807 156h8.2v5.5h-8.2zM823.3 156h16.2v5.5h-16.2zM847.6 156h8.2v5.5h-8.2zM579.7 161.2h8.1v5.4h-8.1zM750.2 161.2h16.2v5.4h-16.2zM807 161.2h8.2v5.4h-8.2zM823.3 161.2h16.2v5.4h-16.2zM847.6 161.2h8.2v5.4h-8.2zM579.7 166.3h8.1v5.2h-8.1zM750.2 166.3h16.2v5.2h-16.2zM807 166.3h8.2v5.2h-8.2zM831.4 166.3h8.1v5.2h-8.1zM847.6 166.3h8.2v5.2h-8.2zM750.2 171.2h16.2v5.3h-16.2zM807 171.2h8.2v5.3h-8.2zM831.4 171.2h8.1v5.3h-8.1zM750.2 176.2h16.2v5h-16.2zM807 176.2h8.2v5h-8.2zM831.4 176.2h8.1v5h-8.1zM750.2 180.9h16.2v5.1h-16.2zM831.4 180.9h8.1v5.1h-8.1zM750.2 185.7h16.2v4.9h-16.2zM563.4 190.3h8.2v4.9h-8.2zM750.2 190.3h16.2v4.9h-16.2zM563.4 194.9h8.2v4.7h-8.2zM750.2 194.9h16.2v4.7h-16.2zM563.4 199.3h8.2v4.7h-8.2zM563.4 203.7h8.2v4.6h-8.2zM571.6 216.5h8.1v4.4h-8.1zM766.4 216.5h8.2v4.4h-8.2zM571.6 220.6h8.1v4.3h-8.1zM766.4 220.6h8.2v4.3h-8.2zM571.6 224.6h8.1v4.3h-8.1zM766.4 224.6h8.2v4.3h-8.2zM571.6 228.6h8.1v4.2h-8.1zM766.4 228.6h8.2v4.2h-8.2zM766.4 232.5h8.2v4.2h-8.2zM766.4 236.4h8.2v4.1h-8.2zM766.4 240.2h8.2v4h-8.2zM766.4 243.9h8.2v4h-8.2zM563.4 258.3h8.2v7.1h-8.2zM701.5 258.3h16.2v7.1h-16.2zM758.3 258.3h8.1v7.1h-8.1zM563.4 265.1h8.2v7h-8.2zM685.2 265.1h81.2v7h-81.2zM685.2 271.8h16.3v6.7h-16.3zM717.7 271.8h48.7v6.7h-48.7zM685.2 278.2h16.3v6.6h-16.3zM717.7 278.2h16.3v6.6h-16.3zM742.1 278.2h24.3v6.6h-24.3zM685.2 284.5h8.2v6.3h-8.2zM677.1 290.5h8.1v6.3h-8.1zM571.6 296.5h8.1v6h-8.1zM579.7 307.8h8.1v5.8h-8.1zM652.8 318.6h8.1v5.4h-8.1zM644.6 323.7h8.2v5.3h-8.2zM628.4 328.7h16.2v5.2h-16.2zM604 333.6h16.3v5.1h-16.3zM587.8 338.4h8.1v5h-8.1z"/>
<path fill="#aa3425" d="M571.6 70.5h8.1v5.3h-8.1zM742.1 70.5h8.1v5.3h-8.1zM823.3 70.5h8.1v5.3h-8.1zM571.6 75.5h8.1v5.3h-8.1zM742.1 75.5h8.1v5.3h-8.1zM823.3 75.5h8.1v5.3h-8.1zM571.6 80.5h8.1v5.3h-8.1zM742.1 80.5h8.1v5.3h-8.1zM571.6 85.5h8.1v4.6h-8.1zM742.1 85.5h8.1v4.6h-8.1zM571.6 89.8h8.1v4.6h-8.1zM742.1 89.8h8.1v4.6h-8.1zM571.6 94.1h8.1v4.6h-8.1zM742.1 94.1h8.1v4.6h-8.1zM571.6 98.4h8.1v4.5h-8.1zM742.1 98.4h8.1v4.5h-8.1zM571.6 102.6h8.1v4.4h-8.1zM742.1 102.6h8.1v4.4h-8.1zM790.8 102.6h8.1v4.4h-8.1zM815.2 102.6h16.2v4.4h-16.2zM571.6 106.7h8.1v4.5h-8.1zM742.1 106.7h8.1v4.5h-8.1zM815.2 106.7h8.1v4.5h-8.1zM571.6 110.9h8.1v4.3h-8.1zM742.1 110.9h8.1v4.3h-8.1zM815.2 110.9h8.1v4.3h-8.1zM571.6 114.9h8.1v4.3h-8.1zM742.1 114.9h8.1v4.3h-8.1zM815.2 114.9h8.1v4.3h-8.1zM742.1 118.9h8.1v4.3h-8.1zM742.1 122.9h8.1v6h-8.1zM742.1 128.6h8.1v6h-8.1zM742.1 134.3h8.1v5.9h-8.1zM742.1 139.9h8.1v5.8h-8.1zM742.1 145.4h8.1v5.6h-8.1zM742.1 150.7h8.1v5.6h-8.1zM742.1 156h8.1v5.5h-8.1zM742.1 161.2h8.1v5.4h-8.1zM742.1 166.3h8.1v5.2h-8.1zM742.1 171.2h8.1v5.3h-8.1zM742.1 176.2h8.1v5h-8.1zM742.1 180.9h8.1v5.1h-8.1zM742.1 185.7h8.1v4.9h-8.1zM571.6 190.3h8.1v4.9h-8.1zM571.6 194.9h8.1v4.7h-8.1zM571.6 199.3h8.1v4.7h-8.1zM571.6 203.7h8.1v4.6h-8.1zM750.2 208h16.2v4.6h-16.2zM750.2 212.3h16.2v4.5h-16.2zM579.7 216.5h8.1v4.4h-8.1zM758.3 216.5h8.1v4.4h-8.1zM579.7 220.6h8.1v4.3h-8.1zM758.3 220.6h8.1v4.3h-8.1zM579.7 224.6h8.1v4.3h-8.1zM758.3 224.6h8.1v4.3h-8.1zM579.7 228.6h8.1v4.2h-8.1zM758.3 228.6h8.1v4.2h-8.1zM579.7 232.5h8.1v4.2h-8.1zM758.3 232.5h8.1v4.2h-8.1zM579.7 236.4h8.1v4.1h-8.1zM758.3 236.4h8.1v4.1h-8.1zM758.3 240.2h8.1v4h-8.1zM758.3 243.9h8.1v4h-8.1zM758.3 247.6h8.1v3.9h-8.1zM758.3 251.2h8.1v3.8h-8.1zM685.2 258.3h16.3v7.1h-16.3zM717.7 258.3h40.6v7.1h-40.6zM766.4 271.8h8.2v6.7h-8.2zM571.6 278.2h8.1v6.6h-8.1zM677.1 278.2h8.1v6.6h-8.1zM766.4 278.2h8.2v6.6h-8.2zM669 290.5h8.1v6.3h-8.1zM587.8 307.8h8.1v5.8h-8.1zM604 318.6h24.4v5.4h-24.4zM595.9 323.7h8.1v5.3h-8.1zM587.8 328.7h8.1v5.2h-8.1z"/>
<path fill="#ca4c22" d="M579.7 70.5h16.2v5.3h-16.2zM734 70.5h8.1v5.3h-8.1zM782.7 70.5h8.1v5.3h-8.1zM798.9 70.5h16.3v5.3h-16.3zM579.7 75.5h16.2v5.3h-16.2zM734 75.5h8.1v5.3h-8.1zM782.7 75.5h8.1v5.3h-8.1zM798.9 75.5h16.3v5.3h-16.3zM579.7 80.5h16.2v5.3h-16.2zM734 80.5h8.1v5.3h-8.1zM782.7 80.5h8.1v5.3h-8.1zM798.9 80.5h16.3v5.3h-16.3zM579.7 85.5h16.2v4.6h-16.2zM734 85.5h8.1v4.6h-8.1zM782.7 85.5h8.1v4.6h-8.1zM798.9 85.5h16.3v4.6h-16.3zM579.7 89.8h16.2v4.6h-16.2zM734 89.8h8.1v4.6h-8.1zM782.7 89.8h8.1v4.6h-8.1zM798.9 89.8h16.3v4.6h-16.3zM823.3 89.8h8.1v4.6h-8.1zM579.7 94.1h16.2v4.6h-16.2zM734 94.1h8.1v4.6h-8.1zM782.7 94.1h8.1v4.6h-8.1zM798.9 94.1h16.3v4.6h-16.3zM579.7 98.4h16.2v4.5h-16.2zM734 98.4h8.1v4.5h-8.1zM782.7 98.4h8.1v4.5h-8.1zM798.9 98.4h16.3v4.5h-16.3zM579.7 102.6h16.2v4.4h-16.2zM734 102.6h8.1v4.4h-8.1zM782.7 102.6h8.1v4.4h-8.1zM798.9 102.6h16.3v4.4h-16.3zM579.7 106.7h16.2v4.5h-16.2zM734 106.7h8.1v4.5h-8.1zM782.7 106.7h8.1v4.5h-8.1zM798.9 106.7h8.1v4.5h-8.1zM579.7 110.9h16.2v4.3h-16.2zM734 110.9h8.1v4.3h-8.1zM782.7 110.9h8.1v4.3h-8.1zM798.9 110.9h8.1v4.3h-8.1zM579.7 114.9h16.2v4.3h-16.2zM734 114.9h8.1v4.3h-8.1zM782.7 114.9h8.1v4.3h-8.1zM798.9 114.9h8.1v4.3h-8.1zM579.7 118.9h16.2v4.3h-16.2zM734 118.9h8.1v4.3h-8.1zM798.9 118.9h8.1v4.3h-8.1zM579.7 122.9h16.2v6h-16.2zM734 122.9h8.1v6h-8.1zM798.9 122.9h8.1v6h-8.1zM587.8 128.6h8.1v6h-8.1zM734 128.6h8.1v6h-8.1zM798.9 128.6h8.1v6h-8.1zM587.8 134.3h8.1v5.9h-8.1zM734 134.3h8.1v5.9h-8.1zM798.9 134.3h8.1v5.9h-8.1zM734 139.9h8.1v5.8h-8.1zM734 145.4h8.1v5.6h-8.1zM734 150.7h8.1v5.6h-8.1zM734 156h8.1v5.5h-8.1zM734 161.2h8.1v5.4h-8.1zM734 166.3h8.1v5.2h-8.1zM734 171.2h8.1v5.3h-8.1zM734 176.2h8.1v5h-8.1zM734 180.9h8.1v5.1h-8.1zM798.9 180.9h8.1v5.1h-8.1zM734 185.7h8.1v4.9h-8.1zM798.9 185.7h8.1v4.9h-8.1zM798.9 190.3h8.1v4.9h-8.1zM798.9 194.9h8.1v4.7h-8.1zM742.1 199.3h8.1v4.7h-8.1zM742.1 203.7h8.1v4.6h-8.1zM750.2 224.6h8.1v4.3h-8.1zM750.2 228.6h8.1v4.2h-8.1zM587.8 232.5h8.1v4.2h-8.1zM750.2 232.5h8.1v4.2h-8.1zM587.8 236.4h8.1v4.1h-8.1zM750.2 236.4h8.1v4.1h-8.1zM587.8 240.2h8.1v4h-8.1zM750.2 240.2h8.1v4h-8.1zM587.8 243.9h8.1v4h-8.1zM750.2 243.9h8.1v4h-8.1zM693.4 247.6h8.1v3.9h-8.1zM750.2 247.6h8.1v3.9h-8.1zM693.4 251.2h8.1v3.8h-8.1zM750.2 251.2h8.1v3.8h-8.1zM677.1 258.3h8.1v7.1h-8.1zM766.4 258.3h8.2v7.1h-8.2zM587.8 265.1h8.1v7h-8.1zM677.1 265.1h8.1v7h-8.1zM766.4 265.1h8.2v7h-8.2zM571.6 271.8h24.3v6.7h-24.3zM669 271.8h16.2v6.7h-16.2zM579.7 278.2h16.2v6.6h-16.2zM669 278.2h8.1v6.6h-8.1zM587.8 284.5h8.1v6.3h-8.1zM660.9 296.5h8.1v6h-8.1zM620.3 302.2h8.1v5.9h-8.1zM595.9 307.8h16.3v5.8h-16.3zM628.4 307.8h8.1v5.8h-8.1zM644.6 307.8h8.2v5.8h-8.2z"/>
<path fill="#fba532" d="M595.9 70.5h8.1v5.3h-8.1zM725.8 70.5h8.2v5.3h-8.2zM595.9 75.5h8.1v5.3h-8.1zM725.8 75.5h8.2v5.3h-8.2zM595.9 80.5h8.1v5.3h-8.1zM725.8 80.5h8.2v5.3h-8.2zM595.9 85.5h8.1v4.6h-8.1zM725.8 85.5h8.2v4.6h-8.2zM595.9 89.8h8.1v4.6h-8.1zM725.8 89.8h8.2v4.6h-8.2zM595.9 94.1h8.1v4.6h-8.1zM725.8 94.1h8.2v4.6h-8.2zM595.9 98.4h8.1v4.5h-8.1zM725.8 98.4h8.2v4.5h-8.2zM595.9 102.6h8.1v4.4h-8.1zM725.8 102.6h8.2v4.4h-8.2zM595.9 106.7h8.1v4.5h-8.1zM725.8 106.7h8.2v4.5h-8.2zM595.9 110.9h8.1v4.3h-8.1zM725.8 110.9h8.2v4.3h-8.2zM595.9 114.9h8.1v4.3h-8.1zM644.6 114.9h16.3v4.3h-16.3zM725.8 114.9h8.2v4.3h-8.2zM595.9 118.9h8.1v4.3h-8.1zM644.6 118.9h16.3v4.3h-16.3zM725.8 118.9h8.2v4.3h-8.2zM595.9 122.9h8.1v6h-8.1zM644.6 122.9h16.3v6h-16.3zM725.8 122.9h8.2v6h-8.2zM595.9 128.6h8.1v6h-8.1zM636.5 128.6h32.5v6h-32.5zM790.8 128.6h8.1v6h-8.1zM595.9 134.3h8.1v5.9h-8.1zM636.5 134.3h32.5v5.9h-32.5zM790.8 134.3h8.1v5.9h-8.1zM636.5 139.9h40.6v5.8h-40.6zM790.8 139.9h8.1v5.8h-8.1zM636.5 145.4h40.6v5.6h-40.6zM790.8 145.4h8.1v5.6h-8.1zM660.9 150.7h16.2v5.6h-16.2zM790.8 150.7h8.1v5.6h-8.1zM660.9 156h16.2v5.5h-16.2zM790.8 156h8.1v5.5h-8.1zM660.9 161.2h16.2v5.4h-16.2zM790.8 161.2h8.1v5.4h-8.1zM660.9 166.3h16.2v5.2h-16.2zM790.8 166.3h8.1v5.2h-8.1zM660.9 171.2h16.2v5.3h-16.2zM790.8 171.2h8.1v5.3h-8.1zM660.9 176.2h16.2v5h-16.2zM790.8 176.2h8.1v5h-8.1zM660.9 216.5h8.1v4.4h-8.1zM660.9 220.6h8.1v4.3h-8.1zM669 224.6h8.1v4.3h-8.1zM685.2 224.6h8.2v4.3h-8.2zM669 228.6h8.1v4.2h-8.1zM685.2 228.6h8.2v4.2h-8.2zM595.9 232.5h8.1v4.2h-8.1zM669 232.5h8.1v4.2h-8.1zM595.9 236.4h8.1v4.1h-8.1zM669 236.4h8.1v4.1h-8.1zM595.9 240.2h8.1v4h-8.1zM669 240.2h8.1v4h-8.1zM595.9 243.9h8.1v4h-8.1zM669 243.9h8.1v4h-8.1zM595.9 247.6h8.1v3.9h-8.1zM669 247.6h8.1v3.9h-8.1zM595.9 251.2h8.1v3.8h-8.1zM669 251.2h8.1v3.8h-8.1zM595.9 254.7h8.1v3.9h-8.1zM595.9 258.3h8.1v7.1h-8.1zM660.9 258.3h8.1v7.1h-8.1zM595.9 265.1h8.1v7h-8.1zM660.9 265.1h8.1v7h-8.1zM595.9 271.8h8.1v6.7h-8.1zM620.3 271.8h8.1v6.7h-8.1zM595.9 278.2h8.1v6.6h-8.1zM652.8 278.2h8.1v6.6h-8.1zM644.6 284.5h8.2v6.3h-8.2z"/>
<path fill="#f6ce56" d="M604 70.5h8.2v5.3h-8.2zM660.9 70.5h8.1v5.3h-8.1zM604 75.5h8.2v5.3h-8.2zM660.9 75.5h8.1v5.3h-8.1zM604 80.5h8.2v5.3h-8.2zM604 85.5h8.2v4.6h-8.2zM604 89.8h8.2v4.6h-8.2zM652.8 89.8h8.1v4.6h-8.1zM604 94.1h8.2v4.6h-8.2zM652.8 94.1h8.1v4.6h-8.1zM604 98.4h8.2v4.5h-8.2zM652.8 98.4h8.1v4.5h-8.1zM604 102.6h8.2v4.4h-8.2zM652.8 102.6h8.1v4.4h-8.1zM604 106.7h8.2v4.5h-8.2zM604 110.9h8.2v4.3h-8.2zM604 114.9h8.2v4.3h-8.2zM636.5 114.9h8.1v4.3h-8.1zM660.9 114.9h16.2v4.3h-16.2zM604 118.9h8.2v4.3h-8.2zM669 118.9h8.1v4.3h-8.1zM604 122.9h8.2v6h-8.2zM669 122.9h8.1v6h-8.1zM604 128.6h8.2v6h-8.2zM620.3 128.6h8.1v6h-8.1zM604 134.3h8.2v5.9h-8.2zM620.3 134.3h8.1v5.9h-8.1zM604 139.9h8.2v5.8h-8.2zM677.1 139.9h8.1v5.8h-8.1zM717.7 139.9h8.1v5.8h-8.1zM604 145.4h8.2v5.6h-8.2zM677.1 145.4h8.1v5.6h-8.1zM717.7 145.4h8.1v5.6h-8.1zM604 150.7h8.2v5.6h-8.2zM677.1 150.7h8.1v5.6h-8.1zM717.7 150.7h8.1v5.6h-8.1zM604 156h8.2v5.5h-8.2zM677.1 156h8.1v5.5h-8.1zM717.7 156h8.1v5.5h-8.1zM604 161.2h8.2v5.4h-8.2zM677.1 161.2h8.1v5.4h-8.1zM717.7 161.2h8.1v5.4h-8.1zM604 166.3h8.2v5.2h-8.2zM677.1 166.3h8.1v5.2h-8.1zM717.7 166.3h8.1v5.2h-8.1zM595.9 171.2h16.3v5.3h-16.3zM677.1 171.2h8.1v5.3h-8.1zM717.7 171.2h8.1v5.3h-8.1zM595.9 176.2h16.3v5h-16.3zM677.1 176.2h8.1v5h-8.1zM717.7 176.2h8.1v5h-8.1zM677.1 180.9h8.1v5.1h-8.1zM717.7 180.9h8.1v5.1h-8.1zM677.1 185.7h8.1v4.9h-8.1zM717.7 185.7h8.1v4.9h-8.1zM644.6 190.3h8.2v4.9h-8.2zM717.7 190.3h8.1v4.9h-8.1zM644.6 194.9h8.2v4.7h-8.2zM717.7 194.9h8.1v4.7h-8.1zM644.6 199.3h16.3v4.7h-16.3zM717.7 199.3h8.1v4.7h-8.1zM644.6 203.7h16.3v4.6h-16.3zM717.7 203.7h8.1v4.6h-8.1zM587.8 208h8.1v4.6h-8.1zM652.8 208h8.1v4.6h-8.1zM685.2 208h8.2v4.6h-8.2zM701.5 208h24.3v4.6h-24.3zM587.8 212.3h8.1v4.5h-8.1zM652.8 212.3h8.1v4.5h-8.1zM685.2 212.3h8.2v4.5h-8.2zM701.5 212.3h24.3v4.5h-24.3zM652.8 216.5h8.1v4.4h-8.1zM701.5 216.5h24.3v4.4h-24.3zM652.8 220.6h8.1v4.3h-8.1zM701.5 220.6h24.3v4.3h-24.3zM701.5 224.6h24.3v4.3h-24.3zM701.5 228.6h24.3v4.2h-24.3zM660.9 232.5h8.1v4.2h-8.1zM660.9 236.4h8.1v4.1h-8.1zM660.9 240.2h8.1v4h-8.1zM660.9 243.9h8.1v4h-8.1zM636.5 247.6h8.1v3.9h-8.1zM660.9 247.6h8.1v3.9h-8.1zM636.5 251.2h8.1v3.8h-8.1zM660.9 251.2h8.1v3.8h-8.1zM636.5 254.7h8.1v3.9h-8.1zM628.4 258.3h24.4v7.1h-24.4zM604 265.1h8.2v7h-8.2zM620.3 265.1h32.5v7h-32.5zM604 271.8h8.2v6.7h-8.2zM628.4 271.8h8.1v6.7h-8.1zM644.6 271.8h16.3v6.7h-16.3zM604 278.2h16.3v6.6h-16.3zM628.4 278.2h8.1v6.6h-8.1zM644.6 278.2h8.2v6.6h-8.2zM636.5 284.5h8.1v6.3h-8.1z"/>
<path fill="#fcf5a0" d="M612.2 70.5h8.1v5.3h-8.1zM636.5 70.5h16.3v5.3h-16.3zM677.1 70.5h8.1v5.3h-8.1zM709.6 70.5h16.2v5.3h-16.2zM612.2 75.5h8.1v5.3h-8.1zM636.5 75.5h16.3v5.3h-16.3zM677.1 75.5h8.1v5.3h-8.1zM709.6 75.5h16.2v5.3h-16.2zM612.2 80.5h8.1v5.3h-8.1zM636.5 80.5h16.3v5.3h-16.3zM677.1 80.5h8.1v5.3h-8.1zM709.6 80.5h16.2v5.3h-16.2zM612.2 85.5h8.1v4.6h-8.1zM636.5 85.5h16.3v4.6h-16.3zM677.1 85.5h8.1v4.6h-8.1zM709.6 85.5h16.2v4.6h-16.2zM612.2 89.8h8.1v4.6h-8.1zM636.5 89.8h16.3v4.6h-16.3zM677.1 89.8h8.1v4.6h-8.1zM709.6 89.8h16.2v4.6h-16.2zM612.2 94.1h8.1v4.6h-8.1zM677.1 94.1h8.1v4.6h-8.1zM709.6 94.1h16.2v4.6h-16.2zM612.2 98.4h8.1v4.5h-8.1zM677.1 98.4h8.1v4.5h-8.1zM709.6 98.4h16.2v4.5h-16.2zM612.2 102.6h16.2v4.4h-16.2zM677.1 102.6h8.1v4.4h-8.1zM709.6 102.6h16.2v4.4h-16.2zM677.1 106.7h8.1v4.5h-8.1zM709.6 106.7h16.2v4.5h-16.2zM677.1 110.9h8.1v4.3h-8.1zM709.6 110.9h16.2v4.3h-16.2zM628.4 114.9h8.1v4.3h-8.1zM677.1 114.9h8.1v4.3h-8.1zM709.6 114.9h16.2v4.3h-16.2zM628.4 118.9h8.1v4.3h-8.1zM677.1 118.9h8.1v4.3h-8.1zM709.6 118.9h8.1v4.3h-8.1zM628.4 122.9h8.1v6h-8.1zM677.1 122.9h8.1v6h-8.1zM709.6 122.9h8.1v6h-8.1zM685.2 139.9h24.4v5.8h-24.4zM685.2 145.4h24.4v5.6h-24.4zM620.3 150.7h16.2v5.6h-16.2zM685.2 150.7h24.4v5.6h-24.4zM620.3 156h16.2v5.5h-16.2zM685.2 156h24.4v5.5h-24.4zM628.4 161.2h16.2v5.4h-16.2zM685.2 161.2h24.4v5.4h-24.4zM628.4 166.3h16.2v5.2h-16.2zM685.2 166.3h24.4v5.2h-24.4zM628.4 171.2h16.2v5.3h-16.2zM685.2 171.2h24.4v5.3h-24.4zM628.4 176.2h16.2v5h-16.2zM685.2 176.2h24.4v5h-24.4zM685.2 180.9h24.4v5.1h-24.4zM685.2 185.7h24.4v4.9h-24.4zM636.5 208h8.1v4.6h-8.1zM636.5 212.3h8.1v4.5h-8.1zM604 216.5h16.3v4.4h-16.3zM628.4 216.5h16.2v4.4h-16.2zM604 220.6h16.3v4.3h-16.3zM628.4 220.6h16.2v4.3h-16.2zM612.2 224.6h8.1v4.3h-8.1zM628.4 224.6h16.2v4.3h-16.2zM612.2 228.6h8.1v4.2h-8.1zM628.4 228.6h16.2v4.2h-16.2zM612.2 232.5h8.1v4.2h-8.1zM628.4 232.5h8.1v4.2h-8.1zM612.2 236.4h8.1v4.1h-8.1zM628.4 236.4h8.1v4.1h-8.1zM612.2 240.2h8.1v4h-8.1zM612.2 243.9h8.1v4h-8.1zM612.2 247.6h8.1v3.9h-8.1zM652.8 247.6h8.1v3.9h-8.1zM612.2 251.2h8.1v3.8h-8.1zM652.8 251.2h8.1v3.8h-8.1zM652.8 254.7h8.1v3.9h-8.1zM652.8 258.3h8.1v7.1h-8.1z"/>
<path fill="#fdfac8" d="M620.3 70.5h8.1v5.3h-8.1zM701.5 70.5h8.1v5.3h-8.1zM620.3 75.5h8.1v5.3h-8.1zM701.5 75.5h8.1v5.3h-8.1zM620.3 80.5h8.1v5.3h-8.1zM701.5 80.5h8.1v5.3h-8.1zM620.3 85.5h8.1v4.6h-8.1zM701.5 85.5h8.1v4.6h-8.1zM620.3 89.8h8.1v4.6h-8.1zM701.5 89.8h8.1v4.6h-8.1zM701.5 94.1h8.1v4.6h-8.1zM701.5 98.4h8.1v4.5h-8.1zM628.4 102.6h8.1v4.4h-8.1zM701.5 102.6h8.1v4.4h-8.1zM701.5 106.7h8.1v4.5h-8.1zM701.5 110.9h8.1v4.3h-8.1zM701.5 114.9h8.1v4.3h-8.1zM701.5 118.9h8.1v4.3h-8.1zM701.5 122.9h8.1v6h-8.1zM620.3 171.2h8.1v5.3h-8.1zM620.3 176.2h8.1v5h-8.1zM612.2 190.3h8.1v4.9h-8.1zM628.4 190.3h8.1v4.9h-8.1zM612.2 194.9h8.1v4.7h-8.1zM628.4 194.9h8.1v4.7h-8.1zM612.2 199.3h8.1v4.7h-8.1zM628.4 199.3h8.1v4.7h-8.1zM612.2 203.7h8.1v4.6h-8.1zM628.4 203.7h8.1v4.6h-8.1zM620.3 224.6h8.1v4.3h-8.1zM620.3 228.6h8.1v4.2h-8.1zM620.3 232.5h8.1v4.2h-8.1zM620.3 236.4h8.1v4.1h-8.1zM620.3 240.2h8.1v4h-8.1zM620.3 243.9h8.1v4h-8.1z"/>
<path fill="#fffdec" d="M628.4 70.5h8.1v5.3h-8.1zM685.2 70.5h16.3v5.3h-16.3zM628.4 75.5h8.1v5.3h-8.1zM685.2 75.5h16.3v5.3h-16.3zM628.4 80.5h8.1v5.3h-8.1zM685.2 80.5h16.3v5.3h-16.3zM628.4 85.5h8.1v4.6h-8.1zM685.2 85.5h16.3v4.6h-16.3zM628.4 89.8h8.1v4.6h-8.1zM685.2 89.8h16.3v4.6h-16.3zM685.2 94.1h16.3v4.6h-16.3zM685.2 98.4h16.3v4.5h-16.3zM685.2 102.6h16.3v4.4h-16.3zM685.2 106.7h16.3v4.5h-16.3zM685.2 110.9h16.3v4.3h-16.3zM685.2 114.9h16.3v4.3h-16.3z"/>
<path fill="#faee78" d="M652.8 70.5h8.1v5.3h-8.1zM669 70.5h8.1v5.3h-8.1zM652.8 75.5h8.1v5.3h-8.1zM669 75.5h8.1v5.3h-8.1zM669 80.5h8.1v5.3h-8.1zM669 85.5h8.1v4.6h-8.1zM660.9 89.8h16.2v4.6h-16.2zM660.9 94.1h16.2v4.6h-16.2zM660.9 98.4h16.2v4.5h-16.2zM636.5 102.6h16.3v4.4h-16.3zM660.9 102.6h16.2v4.4h-16.2zM612.2 114.9h16.2v4.3h-16.2zM612.2 118.9h8.1v4.3h-8.1zM612.2 122.9h8.1v6h-8.1zM612.2 128.6h8.1v6h-8.1zM612.2 134.3h8.1v5.9h-8.1zM709.6 139.9h8.1v5.8h-8.1zM709.6 145.4h8.1v5.6h-8.1zM709.6 150.7h8.1v5.6h-8.1zM709.6 156h8.1v5.5h-8.1zM612.2 161.2h8.1v5.4h-8.1zM644.6 161.2h8.2v5.4h-8.2zM709.6 161.2h8.1v5.4h-8.1zM612.2 166.3h8.1v5.2h-8.1zM644.6 166.3h8.2v5.2h-8.2zM709.6 166.3h8.1v5.2h-8.1zM644.6 171.2h8.2v5.3h-8.2zM709.6 171.2h8.1v5.3h-8.1zM644.6 176.2h8.2v5h-8.2zM709.6 176.2h8.1v5h-8.1zM709.6 180.9h8.1v5.1h-8.1zM709.6 185.7h8.1v4.9h-8.1zM587.8 190.3h8.1v4.9h-8.1zM636.5 190.3h8.1v4.9h-8.1zM709.6 190.3h8.1v4.9h-8.1zM587.8 194.9h8.1v4.7h-8.1zM636.5 194.9h8.1v4.7h-8.1zM709.6 194.9h8.1v4.7h-8.1zM693.4 199.3h8.1v4.7h-8.1zM693.4 203.7h8.1v4.6h-8.1zM693.4 208h8.1v4.6h-8.1zM693.4 212.3h8.1v4.5h-8.1zM644.6 216.5h8.2v4.4h-8.2zM693.4 216.5h8.1v4.4h-8.1zM725.8 216.5h16.3v4.4h-16.3zM644.6 220.6h8.2v4.3h-8.2zM693.4 220.6h8.1v4.3h-8.1zM725.8 220.6h16.3v4.3h-16.3zM644.6 224.6h8.2v4.3h-8.2zM725.8 224.6h16.3v4.3h-16.3zM644.6 228.6h8.2v4.2h-8.2zM725.8 228.6h16.3v4.2h-16.3zM604 232.5h8.2v4.2h-8.2zM644.6 232.5h16.3v4.2h-16.3zM604 236.4h8.2v4.1h-8.2zM644.6 236.4h16.3v4.1h-16.3zM604 240.2h8.2v4h-8.2zM644.6 240.2h8.2v4h-8.2zM604 243.9h8.2v4h-8.2zM644.6 243.9h8.2v4h-8.2zM604 247.6h8.2v3.9h-8.2zM628.4 247.6h8.1v3.9h-8.1zM644.6 247.6h8.2v3.9h-8.2zM604 251.2h8.2v3.8h-8.2zM628.4 251.2h8.1v3.8h-8.1zM644.6 251.2h8.2v3.8h-8.2zM604 254.7h8.2v3.9h-8.2zM604 258.3h24.4v7.1h-24.4zM612.2 265.1h8.1v7h-8.1zM652.8 265.1h8.1v7h-8.1zM612.2 271.8h8.1v6.7h-8.1zM636.5 271.8h8.1v6.7h-8.1zM636.5 278.2h8.1v6.6h-8.1z"/>
<path fill="#f9e76e" d="M652.8 80.5h8.1v5.3h-8.1zM660.9 85.5h8.1v4.6h-8.1zM636.5 106.7h8.1v4.5h-8.1zM660.9 106.7h16.2v4.5h-16.2zM620.3 118.9h8.1v4.3h-8.1zM717.7 128.6h8.1v6h-8.1zM652.8 166.3h8.1v5.2h-8.1zM652.8 171.2h8.1v5.3h-8.1zM595.9 180.9h16.3v5.1h-16.3zM644.6 180.9h8.2v5.1h-8.2zM587.8 199.3h8.1v4.7h-8.1zM685.2 199.3h8.2v4.7h-8.2zM701.5 199.3h16.2v4.7h-16.2zM644.6 212.3h8.2v4.5h-8.2zM725.8 212.3h8.2v4.5h-8.2zM693.4 224.6h8.1v4.3h-8.1zM652.8 228.6h8.1v4.2h-8.1zM725.8 232.5h16.3v4.2h-16.3zM636.5 240.2h8.1v4h-8.1zM628.4 254.7h8.1v3.9h-8.1zM644.6 254.7h8.2v3.9h-8.2z"/>
<path fill="#f7d75d" d="M660.9 80.5h8.1v5.3h-8.1zM652.8 85.5h8.1v4.6h-8.1zM644.6 106.7h8.2v4.5h-8.2zM636.5 110.9h8.1v4.3h-8.1zM660.9 110.9h16.2v4.3h-16.2zM620.3 122.9h8.1v6h-8.1zM717.7 134.3h8.1v5.9h-8.1zM652.8 161.2h8.1v5.4h-8.1zM652.8 176.2h8.1v5h-8.1zM587.8 185.7h8.1v4.9h-8.1zM644.6 185.7h8.2v4.9h-8.2zM587.8 203.7h8.1v4.6h-8.1zM685.2 203.7h8.2v4.6h-8.2zM701.5 203.7h16.2v4.6h-16.2zM644.6 208h8.2v4.6h-8.2zM725.8 208h8.2v4.6h-8.2zM652.8 224.6h8.1v4.3h-8.1zM693.4 228.6h8.1v4.2h-8.1zM725.8 236.4h16.3v4.1h-16.3zM636.5 243.9h8.1v4h-8.1z"/>
<path fill="#b23a24" d="M823.3 80.5h8.1v5.3h-8.1zM823.3 98.4h8.1v4.5h-8.1zM579.7 134.3h8.1v5.9h-8.1zM587.8 145.4h8.1v5.6h-8.1zM798.9 145.4h8.1v5.6h-8.1zM587.8 150.7h8.1v5.6h-8.1zM798.9 171.2h8.1v5.3h-8.1zM742.1 190.3h8.1v4.9h-8.1zM798.9 203.7h8.1v4.6h-8.1zM579.7 212.3h8.1v4.5h-8.1zM750.2 216.5h8.1v4.4h-8.1zM790.8 220.6h8.1v4.3h-8.1zM782.7 228.6h8.1v4.2h-8.1zM579.7 240.2h8.1v4h-8.1zM766.4 254.7h8.2v3.9h-8.2zM669 284.5h8.1v6.3h-8.1zM587.8 302.2h8.1v5.9h-8.1zM660.9 302.2h8.1v5.9h-8.1zM652.8 307.8h8.1v5.8h-8.1zM587.8 313.3h8.1v5.6h-8.1zM620.3 313.3h16.2v5.6h-16.2zM644.6 313.3h8.2v5.6h-8.2zM587.8 318.6h16.2v5.4h-16.2zM587.8 323.7h8.1v5.3h-8.1z"/>
<path fill="#c24623" d="M823.3 85.5h8.1v4.6h-8.1zM823.3 94.1h8.1v4.6h-8.1zM790.8 106.7h8.1v4.5h-8.1zM579.7 128.6h8.1v6h-8.1zM587.8 139.9h8.1v5.8h-8.1zM798.9 139.9h8.1v5.8h-8.1zM587.8 156h8.1v5.5h-8.1zM798.9 176.2h8.1v5h-8.1zM742.1 194.9h8.1v4.7h-8.1zM798.9 199.3h8.1v4.7h-8.1zM579.7 208h8.1v4.6h-8.1zM790.8 216.5h8.1v4.4h-8.1zM750.2 220.6h8.1v4.3h-8.1zM782.7 224.6h8.1v4.3h-8.1zM579.7 243.9h8.1v4h-8.1zM685.2 254.7h16.3v3.9h-16.3zM717.7 254.7h40.6v3.9h-40.6zM587.8 290.5h8.1v6.3h-8.1zM587.8 296.5h8.1v6h-8.1zM620.3 307.8h8.1v5.8h-8.1zM595.9 313.3h8.1v5.6h-8.1zM612.2 313.3h8.1v5.6h-8.1z"/>
<path fill="#fdf9be" d="M620.3 94.1h8.1v4.6h-8.1zM628.4 106.7h8.1v4.5h-8.1zM685.2 128.6h24.4v6h-24.4zM620.3 166.3h8.1v5.2h-8.1zM612.2 185.7h8.1v4.9h-8.1zM628.4 185.7h8.1v4.9h-8.1zM595.9 208h24.4v4.6h-24.4zM628.4 208h8.1v4.6h-8.1zM620.3 247.6h8.1v3.9h-8.1z"/>
<path fill="#fefce3" d="M628.4 94.1h8.1v4.6h-8.1zM685.2 118.9h16.3v4.3h-16.3zM595.9 194.9h16.3v4.7h-16.3zM595.9 199.3h16.3v4.7h-16.3zM620.3 216.5h8.1v4.4h-8.1z"/>
<path fill="#fcf396" d="M636.5 94.1h16.3v4.6h-16.3zM612.2 106.7h16.2v4.5h-16.2zM717.7 118.9h8.1v4.3h-8.1zM628.4 128.6h8.1v6h-8.1zM709.6 128.6h8.1v6h-8.1zM612.2 145.4h8.1v5.6h-8.1zM628.4 145.4h8.1v5.6h-8.1zM612.2 150.7h8.1v5.6h-8.1zM612.2 176.2h8.1v5h-8.1zM636.5 180.9h8.1v5.1h-8.1zM685.2 190.3h24.4v4.9h-24.4zM636.5 203.7h8.1v4.6h-8.1zM595.9 216.5h8.1v4.4h-8.1zM604 224.6h8.2v4.3h-8.2zM636.5 232.5h8.1v4.2h-8.1zM628.4 240.2h8.1v4h-8.1zM652.8 243.9h8.1v4h-8.1zM612.2 254.7h16.2v3.9h-16.2z"/>
<path fill="#8e2620" d="M790.8 94.1h8.1v4.6h-8.1zM815.2 94.1h8.1v4.6h-8.1zM823.3 110.9h8.1v4.3h-8.1zM571.6 122.9h8.1v6h-8.1zM815.2 122.9h8.1v6h-8.1zM579.7 145.4h8.1v5.6h-8.1zM798.9 156h8.1v5.5h-8.1zM839.5 156h8.1v5.5h-8.1zM798.9 161.2h8.1v5.4h-8.1zM839.5 161.2h8.1v5.4h-8.1zM839.5 166.3h8.1v5.2h-8.1zM579.7 171.2h8.1v5.3h-8.1zM839.5 171.2h8.1v5.3h-8.1zM839.5 176.2h8.1v5h-8.1zM839.5 180.9h8.1v5.1h-8.1zM750.2 199.3h16.2v4.7h-16.2zM571.6 212.3h8.1v4.5h-8.1zM790.8 228.6h8.1v4.2h-8.1zM571.6 232.5h8.1v4.2h-8.1zM782.7 236.4h8.1v4.1h-8.1zM766.4 247.6h8.2v3.9h-8.2zM571.6 284.5h8.1v6.3h-8.1zM677.1 284.5h8.1v6.3h-8.1zM571.6 290.5h8.1v6.3h-8.1zM579.7 296.5h8.1v6h-8.1zM579.7 302.2h8.1v5.9h-8.1zM669 302.2h8.1v5.9h-8.1zM660.9 307.8h8.1v5.8h-8.1zM644.6 318.6h8.2v5.4h-8.2zM628.4 323.7h16.2v5.3h-16.2zM604 328.7h24.4v5.2h-24.4zM595.9 333.6h8.1v5.1h-8.1z"/>
<path fill="#7d211d" d="M839.5 94.1h8.1v4.6h-8.1zM855.8 94.1h8.1v4.6h-8.1zM847.6 106.7h8.2v4.5h-8.2zM863.9 106.7h8.1v4.5h-8.1zM831.4 128.6h8.1v6h-8.1zM563.4 139.9h16.3v5.8h-16.3zM831.4 145.4h24.4v5.6h-24.4zM555.3 150.7h8.1v5.6h-8.1zM855.8 150.7h16.2v5.6h-16.2zM815.2 156h8.1v5.5h-8.1zM855.8 156h16.2v5.5h-16.2zM815.2 161.2h8.1v5.4h-8.1zM855.8 161.2h8.1v5.4h-8.1zM815.2 166.3h16.2v5.2h-16.2zM855.8 166.3h8.1v5.2h-8.1zM823.3 171.2h8.1v5.3h-8.1zM847.6 171.2h8.2v5.3h-8.2zM823.3 176.2h8.1v5h-8.1zM807 180.9h8.2v5.1h-8.2zM563.4 185.7h8.2v4.9h-8.2zM831.4 185.7h16.2v4.9h-16.2zM807 194.9h8.2v4.7h-8.2zM807 199.3h8.2v4.7h-8.2zM563.4 208h8.2v4.6h-8.2zM766.4 212.3h8.2v4.5h-8.2zM790.8 232.5h8.1v4.2h-8.1zM782.7 240.2h8.1v4h-8.1zM693.4 284.5h24.3v6.3h-24.3zM685.2 290.5h8.2v6.3h-8.2zM766.4 290.5h8.2v6.3h-8.2zM677.1 296.5h8.1v6h-8.1zM571.6 302.2h8.1v5.9h-8.1zM571.6 307.8h8.1v5.8h-8.1zM669 307.8h8.1v5.8h-8.1zM579.7 313.3h8.1v5.6h-8.1zM660.9 313.3h8.1v5.6h-8.1zM579.7 318.6h8.1v5.4h-8.1zM579.7 323.7h8.1v5.3h-8.1zM579.7 328.7h8.1v5.2h-8.1zM644.6 328.7h8.2v5.2h-8.2zM620.3 333.6h16.2v5.1h-16.2zM595.9 338.4h24.4v5h-24.4z"/>
<path fill="#fcf6aa" d="M620.3 98.4h8.1v4.5h-8.1zM628.4 110.9h8.1v4.3h-8.1zM685.2 134.3h24.4v5.9h-24.4zM620.3 161.2h8.1v5.4h-8.1zM612.2 180.9h8.1v5.1h-8.1zM628.4 180.9h8.1v5.1h-8.1zM595.9 185.7h16.3v4.9h-16.3zM595.9 212.3h24.4v4.5h-24.4zM628.4 212.3h8.1v4.5h-8.1zM620.3 251.2h8.1v3.8h-8.1z"/>
<path fill="#fefbd1" d="M628.4 98.4h8.1v4.5h-8.1zM685.2 122.9h16.3v6h-16.3zM595.9 190.3h16.3v4.9h-16.3zM595.9 203.7h16.3v4.6h-16.3zM620.3 220.6h8.1v4.3h-8.1z"/>
<path fill="#faf082" d="M636.5 98.4h16.3v4.5h-16.3zM612.2 110.9h16.2v4.3h-16.2zM717.7 122.9h8.1v6h-8.1zM628.4 134.3h8.1v5.9h-8.1zM709.6 134.3h8.1v5.9h-8.1zM612.2 139.9h8.1v5.8h-8.1zM628.4 139.9h8.1v5.8h-8.1zM612.2 156h8.1v5.5h-8.1zM636.5 156h8.1v5.5h-8.1zM612.2 171.2h8.1v5.3h-8.1zM636.5 185.7h8.1v4.9h-8.1zM685.2 194.9h24.4v4.7h-24.4zM636.5 199.3h8.1v4.7h-8.1zM595.9 220.6h8.1v4.3h-8.1zM604 228.6h8.2v4.2h-8.2zM636.5 236.4h8.1v4.1h-8.1zM652.8 240.2h8.1v4h-8.1zM628.4 243.9h8.1v4h-8.1z"/>
<path fill="#a02e24" d="M790.8 98.4h8.1v4.5h-8.1zM815.2 98.4h8.1v4.5h-8.1zM823.3 106.7h8.1v4.5h-8.1zM571.6 118.9h8.1v4.3h-8.1zM815.2 118.9h8.1v4.3h-8.1zM579.7 139.9h8.1v5.8h-8.1zM798.9 150.7h8.1v5.6h-8.1zM798.9 166.3h8.1v5.2h-8.1zM579.7 176.2h8.1v5h-8.1zM750.2 203.7h16.2v4.6h-16.2zM571.6 208h8.1v4.6h-8.1zM790.8 224.6h8.1v4.3h-8.1zM782.7 232.5h8.1v4.2h-8.1zM571.6 236.4h8.1v4.1h-8.1zM766.4 251.2h8.2v3.8h-8.2zM701.5 254.7h8.1v3.9h-8.1zM758.3 254.7h8.1v3.9h-8.1zM579.7 284.5h8.1v6.3h-8.1zM766.4 284.5h8.2v6.3h-8.2zM669 296.5h8.1v6h-8.1zM652.8 313.3h8.1v5.6h-8.1zM628.4 318.6h16.2v5.4h-16.2zM604 323.7h24.4v5.3h-24.4zM595.9 328.7h8.1v5.2h-8.1z"/>
<path fill="#6b1d1a" d="M839.5 98.4h8.1v4.5h-8.1zM855.8 98.4h8.1v4.5h-8.1zM847.6 110.9h8.2v4.3h-8.2zM863.9 110.9h8.1v4.3h-8.1zM831.4 134.3h8.1v5.9h-8.1zM831.4 139.9h40.6v5.8h-40.6zM563.4 145.4h16.3v5.6h-16.3zM555.3 156h8.1v5.5h-8.1zM863.9 171.2h8.1v5.3h-8.1zM855.8 176.2h8.1v5h-8.1zM563.4 180.9h8.2v5.1h-8.2zM815.2 180.9h8.1v5.1h-8.1zM847.6 180.9h8.2v5.1h-8.2zM815.2 185.7h8.1v4.9h-8.1zM815.2 190.3h16.2v4.9h-16.2zM815.2 194.9h8.1v4.7h-8.1zM815.2 199.3h8.1v4.7h-8.1zM766.4 208h8.2v4.6h-8.2zM807 208h8.2v4.6h-8.2zM563.4 212.3h8.2v4.5h-8.2zM790.8 236.4h8.1v4.1h-8.1zM782.7 243.9h8.1v4h-8.1zM563.4 254.7h8.2v3.9h-8.2zM717.7 284.5h8.1v6.3h-8.1zM701.5 290.5h16.2v6.3h-16.2zM685.2 296.5h16.3v6h-16.3zM677.1 302.2h8.1v5.9h-8.1zM669 313.3h8.1v5.6h-8.1zM571.6 318.6h8.1v5.4h-8.1zM660.9 318.6h8.1v5.4h-8.1zM571.6 323.7h8.1v5.3h-8.1zM579.7 333.6h8.1v5.1h-8.1zM644.6 333.6h8.2v5.1h-8.2zM620.3 338.4h16.2v5h-16.2zM595.9 343.1h24.4v4.8h-24.4z"/>
<path fill="#f8c44c" d="M652.8 106.7h8.1v4.5h-8.1zM644.6 110.9h8.2v4.3h-8.2zM636.5 118.9h8.1v4.3h-8.1zM660.9 118.9h8.1v4.3h-8.1zM669 128.6h8.1v6h-8.1zM636.5 150.7h8.1v5.6h-8.1zM652.8 156h8.1v5.5h-8.1zM595.9 166.3h8.1v5.2h-8.1zM652.8 180.9h8.1v5.1h-8.1zM677.1 190.3h8.1v4.9h-8.1zM652.8 194.9h8.1v4.7h-8.1zM725.8 203.7h8.2v4.6h-8.2zM685.2 216.5h8.2v4.4h-8.2zM660.9 228.6h8.1v4.2h-8.1zM701.5 232.5h24.3v4.2h-24.3zM660.9 254.7h8.1v3.9h-8.1z"/>
<path fill="#d05221" d="M807 106.7h8.2v4.5h-8.2zM790.8 110.9h8.1v4.3h-8.1zM782.7 118.9h8.1v4.3h-8.1zM807 134.3h8.2v5.9h-8.2zM587.8 161.2h8.1v5.4h-8.1zM579.7 203.7h8.1v4.6h-8.1zM782.7 220.6h8.1v4.3h-8.1zM579.7 247.6h16.2v3.9h-16.2zM685.2 251.2h8.2v3.8h-8.2zM709.6 251.2h8.1v3.8h-8.1zM742.1 251.2h8.1v3.8h-8.1zM620.3 296.5h8.1v6h-8.1zM652.8 302.2h8.1v5.9h-8.1zM612.2 307.8h8.1v5.8h-8.1zM636.5 307.8h8.1v5.8h-8.1z"/>
<path fill="#fab03a" d="M652.8 110.9h8.1v4.3h-8.1zM636.5 122.9h8.1v6h-8.1zM660.9 122.9h8.1v6h-8.1zM669 134.3h8.1v5.9h-8.1zM652.8 150.7h8.1v5.6h-8.1zM595.9 161.2h8.1v5.4h-8.1zM652.8 185.7h8.1v4.9h-8.1zM652.8 190.3h8.1v4.9h-8.1zM677.1 194.9h8.1v4.7h-8.1zM725.8 199.3h8.2v4.7h-8.2zM685.2 220.6h8.2v4.3h-8.2zM660.9 224.6h8.1v4.3h-8.1zM701.5 236.4h24.3v4.1h-24.3zM628.4 284.5h8.1v6.3h-8.1zM636.5 290.5h8.1v6.3h-8.1z"/>
<path fill="#dc5e1f" d="M807 110.9h8.2v4.3h-8.2zM782.7 122.9h8.1v6h-8.1zM807 128.6h8.2v6h-8.2zM587.8 166.3h8.1v5.2h-8.1zM579.7 199.3h8.1v4.7h-8.1zM782.7 216.5h8.1v4.4h-8.1zM685.2 247.6h8.2v3.9h-8.2zM709.6 247.6h8.1v3.9h-8.1zM742.1 247.6h8.1v3.9h-8.1zM579.7 251.2h16.2v3.8h-16.2zM595.9 302.2h8.1v5.9h-8.1zM612.2 302.2h8.1v5.9h-8.1z"/>
<path fill="#e2641e" d="M790.8 114.9h8.1v4.3h-8.1zM807 114.9h8.2v4.3h-8.2zM807 118.9h8.2v4.3h-8.2zM807 122.9h8.2v6h-8.2zM579.7 190.3h8.1v4.9h-8.1zM579.7 194.9h8.1v4.7h-8.1zM669 199.3h8.1v4.7h-8.1zM669 203.7h8.1v4.6h-8.1zM579.7 254.7h16.2v3.9h-16.2zM579.7 258.3h16.2v7.1h-16.2zM669 258.3h8.1v7.1h-8.1zM571.6 265.1h16.2v7h-16.2zM669 265.1h8.1v7h-8.1zM660.9 278.2h8.1v6.6h-8.1zM660.9 284.5h8.1v6.3h-8.1zM620.3 290.5h8.1v6.3h-8.1zM604 296.5h16.3v6h-16.3zM652.8 296.5h8.1v6h-8.1zM628.4 302.2h8.1v5.9h-8.1zM644.6 302.2h8.2v5.9h-8.2z"/>
<path fill="#f07a21" d="M790.8 118.9h8.1v4.3h-8.1zM782.7 134.3h8.1v5.9h-8.1zM587.8 176.2h8.1v5h-8.1zM669 190.3h8.1v4.9h-8.1zM782.7 208h8.1v4.6h-8.1zM669 212.3h8.1v4.5h-8.1zM685.2 240.2h8.2v4h-8.2zM742.1 240.2h8.1v4h-8.1zM571.6 251.2h8.1v3.8h-8.1zM620.3 284.5h8.1v6.3h-8.1z"/>
<path fill="#f8942a" d="M790.8 122.9h8.1v6h-8.1zM587.8 220.6h8.1v4.3h-8.1zM693.4 236.4h8.1v4.1h-8.1zM701.5 240.2h16.2v4h-16.2zM725.8 243.9h16.3v4h-16.3zM669 254.7h8.1v3.9h-8.1zM644.6 290.5h8.2v6.3h-8.2z"/>
<path fill="#fbf28c" d="M677.1 128.6h8.1v6h-8.1zM620.3 145.4h8.1v5.6h-8.1z"/>
<path fill="#fa9c2e" d="M725.8 128.6h8.2v6h-8.2zM595.9 139.9h8.1v5.8h-8.1zM595.9 156h8.1v5.5h-8.1zM587.8 180.9h8.1v5.1h-8.1zM660.9 180.9h16.2v5.1h-16.2zM790.8 180.9h8.1v5.1h-8.1zM725.8 194.9h8.2v4.7h-8.2zM677.1 199.3h8.1v4.7h-8.1zM734 203.7h8.1v4.6h-8.1zM660.9 212.3h8.1v4.5h-8.1zM669 220.6h8.1v4.3h-8.1zM742.1 228.6h8.1v4.2h-8.1zM685.2 232.5h8.2v4.2h-8.2zM742.1 232.5h8.1v4.2h-8.1zM677.1 236.4h8.1v4.1h-8.1zM677.1 240.2h8.1v4h-8.1zM717.7 240.2h8.1v4h-8.1zM595.9 284.5h8.1v6.3h-8.1zM628.4 290.5h8.1v6.3h-8.1zM636.5 296.5h8.1v6h-8.1z"/>
<path fill="#e76c1f" d="M782.7 128.6h8.1v6h-8.1zM587.8 171.2h8.1v5.3h-8.1zM669 194.9h8.1v4.7h-8.1zM669 208h8.1v4.6h-8.1zM782.7 212.3h8.1v4.5h-8.1zM685.2 243.9h8.2v4h-8.2zM742.1 243.9h8.1v4h-8.1zM571.6 247.6h8.1v3.9h-8.1zM595.9 296.5h8.1v6h-8.1z"/>
<path fill="#f8e064" d="M677.1 134.3h8.1v5.9h-8.1zM620.3 139.9h8.1v5.8h-8.1zM644.6 156h8.2v5.5h-8.2zM734 212.3h8.1v4.5h-8.1zM595.9 224.6h8.1v4.3h-8.1z"/>
<path fill="#f68b26" d="M725.8 134.3h8.2v5.9h-8.2zM595.9 145.4h8.1v5.6h-8.1zM595.9 150.7h8.1v5.6h-8.1zM660.9 185.7h16.2v4.9h-16.2zM790.8 185.7h8.1v4.9h-8.1zM725.8 190.3h8.2v4.9h-8.2zM734 199.3h8.1v4.7h-8.1zM677.1 203.7h8.1v4.6h-8.1zM660.9 208h8.1v4.6h-8.1zM669 216.5h8.1v4.4h-8.1zM742.1 224.6h8.1v4.3h-8.1zM677.1 232.5h8.1v4.2h-8.1zM685.2 236.4h8.2v4.1h-8.2zM742.1 236.4h8.1v4.1h-8.1zM677.1 243.9h8.1v4h-8.1zM717.7 243.9h8.1v4h-8.1z"/>
<path fill="#581917" d="M547.2 139.9h8.1v5.8h-8.1zM766.4 150.7h8.2v5.6h-8.2zM872 156h8.1v5.5h-8.1zM555.3 171.2h8.1v5.3h-8.1zM863.9 176.2h8.1v5h-8.1zM555.3 185.7h8.1v4.9h-8.1zM855.8 185.7h8.1v4.9h-8.1zM555.3 190.3h8.1v4.9h-8.1zM847.6 190.3h8.2v4.9h-8.2zM766.4 194.9h8.2v4.7h-8.2zM823.3 203.7h8.1v4.6h-8.1zM815.2 212.3h8.1v4.5h-8.1zM798.9 216.5h16.3v4.4h-16.3zM790.8 247.6h8.1v3.9h-8.1zM782.7 254.7h8.1v3.9h-8.1zM725.8 284.5h8.2v6.3h-8.2zM750.2 284.5h16.2v6.3h-16.2zM717.7 296.5h8.1v6h-8.1zM766.4 296.5h8.2v6h-8.2zM563.4 302.2h8.2v5.9h-8.2zM693.4 302.2h24.3v5.9h-24.3zM563.4 307.8h8.2v5.8h-8.2zM685.2 307.8h8.2v5.8h-8.2zM677.1 313.3h8.1v5.6h-8.1zM669 323.7h8.1v5.3h-8.1zM660.9 328.7h8.1v5.2h-8.1zM571.6 333.6h8.1v5.1h-8.1zM652.8 333.6h8.1v5.1h-8.1zM652.8 338.4h8.1v5h-8.1zM579.7 343.1h8.1v4.8h-8.1zM636.5 343.1h16.3v4.8h-16.3zM612.2 347.6h24.3v4.7h-24.3zM587.8 352h24.4v4.7h-24.4z"/>
<path fill="#f58222" d="M725.8 139.9h8.2v5.8h-8.2zM782.7 139.9h8.1v5.8h-8.1zM725.8 145.4h8.2v5.6h-8.2zM782.7 145.4h8.1v5.6h-8.1zM725.8 150.7h8.2v5.6h-8.2zM782.7 150.7h8.1v5.6h-8.1zM725.8 156h8.2v5.5h-8.2zM782.7 156h8.1v5.5h-8.1zM725.8 161.2h8.2v5.4h-8.2zM782.7 161.2h8.1v5.4h-8.1zM725.8 166.3h8.2v5.2h-8.2zM782.7 166.3h8.1v5.2h-8.1zM725.8 171.2h8.2v5.3h-8.2zM782.7 171.2h8.1v5.3h-8.1zM725.8 176.2h8.2v5h-8.2zM782.7 176.2h8.1v5h-8.1zM725.8 180.9h8.2v5.1h-8.2zM782.7 180.9h8.1v5.1h-8.1zM725.8 185.7h8.2v4.9h-8.2zM782.7 185.7h8.1v4.9h-8.1zM660.9 190.3h8.1v4.9h-8.1zM782.7 190.3h16.2v4.9h-16.2zM660.9 194.9h8.1v4.7h-8.1zM782.7 194.9h16.2v4.7h-16.2zM660.9 199.3h8.1v4.7h-8.1zM782.7 199.3h16.2v4.7h-16.2zM660.9 203.7h8.1v4.6h-8.1zM782.7 203.7h16.2v4.6h-16.2zM677.1 208h8.1v4.6h-8.1zM677.1 212.3h8.1v4.5h-8.1zM677.1 216.5h8.1v4.4h-8.1zM742.1 216.5h8.1v4.4h-8.1zM677.1 220.6h8.1v4.3h-8.1zM742.1 220.6h8.1v4.3h-8.1zM677.1 224.6h8.1v4.3h-8.1zM677.1 228.6h8.1v4.2h-8.1zM677.1 247.6h8.1v3.9h-8.1zM677.1 251.2h8.1v3.8h-8.1zM571.6 254.7h8.1v3.9h-8.1zM571.6 258.3h8.1v7.1h-8.1zM660.9 271.8h8.1v6.7h-8.1zM620.3 278.2h8.1v6.6h-8.1zM604 284.5h16.3v6.3h-16.3zM652.8 284.5h8.1v6.3h-8.1zM595.9 290.5h8.1v6.3h-8.1zM628.4 296.5h8.1v6h-8.1zM644.6 296.5h8.2v6h-8.2z"/>
<path fill="#ba4024" d="M807 139.9h8.2v5.8h-8.2zM579.7 180.9h8.1v5.1h-8.1zM571.6 240.2h8.1v4h-8.1zM701.5 251.2h8.1v3.8h-8.1zM709.6 254.7h8.1v3.9h-8.1zM604 313.3h8.2v5.6h-8.2zM636.5 313.3h8.1v5.6h-8.1z"/>
<path fill="#461514" d="M547.2 145.4h8.1v5.6h-8.1zM766.4 156h8.2v5.5h-8.2zM872 171.2h8.1v5.3h-8.1zM555.3 176.2h8.1v5h-8.1zM555.3 180.9h8.1v5.1h-8.1zM766.4 190.3h8.2v4.9h-8.2zM555.3 194.9h8.1v4.7h-8.1zM847.6 194.9h8.2v4.7h-8.2zM839.5 203.7h8.1v4.6h-8.1zM831.4 208h8.1v4.6h-8.1zM823.3 212.3h8.1v4.5h-8.1zM798.9 220.6h24.4v4.3h-24.4zM790.8 251.2h8.1v3.8h-8.1zM555.3 254.7h8.1v3.9h-8.1zM555.3 284.5h8.1v6.3h-8.1zM734 284.5h16.2v6.3h-16.2zM774.6 284.5h8.1v6.3h-8.1zM555.3 290.5h8.1v6.3h-8.1zM725.8 290.5h8.2v6.3h-8.2zM750.2 290.5h16.2v6.3h-16.2zM717.7 302.2h8.1v5.9h-8.1zM693.4 307.8h24.3v5.8h-24.3zM685.2 313.3h16.3v5.6h-16.3zM563.4 318.6h8.2v5.4h-8.2zM677.1 318.6h8.1v5.4h-8.1zM563.4 323.7h8.2v5.3h-8.2zM677.1 323.7h8.1v5.3h-8.1zM669 328.7h8.1v5.2h-8.1zM669 333.6h8.1v5.1h-8.1zM571.6 338.4h8.1v5h-8.1zM660.9 338.4h8.1v5h-8.1zM579.7 347.6h8.1v4.7h-8.1zM644.6 347.6h16.3v4.7h-16.3zM612.2 352h32.4v4.7h-32.4zM612.2 356.4h32.4v4.5h-32.4zM587.8 360.6h24.4v4.4h-24.4z"/>
<path fill="#962822" d="M807 145.4h8.2v5.6h-8.2zM571.6 185.7h8.1v4.9h-8.1zM798.9 208h8.1v4.6h-8.1zM579.7 290.5h8.1v6.3h-8.1zM587.8 333.6h8.1v5.1h-8.1z"/>
<path fill="#741f1c" d="M855.8 145.4h16.2v5.6h-16.2zM863.9 161.2h8.1v5.4h-8.1zM863.9 166.3h8.1v5.2h-8.1zM815.2 171.2h8.1v5.3h-8.1zM855.8 171.2h8.1v5.3h-8.1zM815.2 176.2h8.1v5h-8.1zM847.6 176.2h8.2v5h-8.2zM571.6 180.9h8.1v5.1h-8.1zM823.3 180.9h8.1v5.1h-8.1zM807 185.7h8.2v4.9h-8.2zM823.3 185.7h8.1v4.9h-8.1zM807 190.3h8.2v4.9h-8.2zM831.4 190.3h16.2v4.9h-16.2zM807 203.7h8.2v4.6h-8.2zM798.9 212.3h8.1v4.5h-8.1zM693.4 290.5h8.1v6.3h-8.1zM571.6 313.3h8.1v5.6h-8.1zM652.8 323.7h8.1v5.3h-8.1zM636.5 333.6h8.1v5.1h-8.1zM587.8 343.1h8.1v4.8h-8.1z"/>
<path fill="#361212" d="M539.1 150.7h8.1v5.6h-8.1zM522.8 171.2h16.3v5.3h-16.3zM872 176.2h8.1v5h-8.1zM847.6 199.3h8.2v4.7h-8.2zM839.5 208h8.1v4.6h-8.1zM831.4 212.3h8.1v4.5h-8.1zM823.3 216.5h8.1v4.4h-8.1zM807 224.6h16.3v4.3h-16.3zM798.9 232.5h8.1v4.2h-8.1zM539.1 236.4h8.1v4.1h-8.1zM531 284.5h16.2v6.3h-16.2zM782.7 284.5h16.2v6.3h-16.2zM531 290.5h24.3v6.3h-24.3zM531 296.5h24.3v6h-24.3zM734 296.5h16.2v6h-16.2zM758.3 296.5h8.1v6h-8.1zM774.6 296.5h8.1v6h-8.1zM547.2 302.2h8.1v5.9h-8.1zM725.8 302.2h8.2v5.9h-8.2zM547.2 307.8h8.1v5.8h-8.1zM555.3 313.3h8.1v5.6h-8.1zM717.7 313.3h8.1v5.6h-8.1zM555.3 318.6h8.1v5.4h-8.1zM701.5 318.6h16.2v5.4h-16.2zM555.3 323.7h8.1v5.3h-8.1zM685.2 323.7h16.3v5.3h-16.3zM555.3 328.7h8.1v5.2h-8.1zM685.2 328.7h8.2v5.2h-8.2zM563.4 333.6h8.2v5.1h-8.2zM677.1 333.6h8.1v5.1h-8.1zM563.4 338.4h8.2v5h-8.2zM677.1 338.4h8.1v5h-8.1zM669 343.1h8.1v4.8h-8.1zM571.6 352h8.1v4.7h-8.1zM660.9 352h8.1v4.7h-8.1zM579.7 356.4h8.1v4.5h-8.1zM652.8 356.4h8.1v4.5h-8.1zM579.7 360.6h8.1v4.4h-8.1zM644.6 360.6h16.3v4.4h-16.3zM612.2 364.7h40.6v4.3h-40.6zM587.8 368.7h65v4.3h-65z"/>
<path fill="#faba42" d="M644.6 150.7h8.2v5.6h-8.2zM734 208h8.1v4.6h-8.1zM587.8 216.5h8.1v4.4h-8.1zM595.9 228.6h8.1v4.2h-8.1zM693.4 232.5h8.1v4.2h-8.1zM725.8 240.2h16.3v4h-16.3z"/>
<path fill="#2a1010" d="M539.1 156h8.1v5.5h-8.1zM514.7 176.2h8.1v5h-8.1zM539.1 176.2h8.1v5h-8.1zM514.7 180.9h32.5v5.1h-32.5zM514.7 185.7h32.5v4.9h-32.5zM514.7 190.3h32.5v4.9h-32.5zM872 190.3h8.1v4.9h-8.1zM514.7 194.9h32.5v4.7h-32.5zM514.7 199.3h32.5v4.7h-32.5zM863.9 199.3h8.1v4.7h-8.1zM514.7 203.7h16.3v4.6h-16.3zM539.1 203.7h8.1v4.6h-8.1zM855.8 203.7h8.1v4.6h-8.1zM514.7 208h16.3v4.6h-16.3zM539.1 208h8.1v4.6h-8.1zM847.6 208h8.2v4.6h-8.2zM514.7 212.3h8.1v4.5h-8.1zM539.1 212.3h8.1v4.5h-8.1zM514.7 216.5h8.1v4.4h-8.1zM539.1 216.5h8.1v4.4h-8.1zM823.3 220.6h16.2v4.3h-16.2zM807 228.6h16.3v4.2h-16.3zM539.1 232.5h8.1v4.2h-8.1zM798.9 236.4h8.1v4.1h-8.1zM514.7 284.5h16.3v6.3h-16.3zM514.7 290.5h16.3v6.3h-16.3zM790.8 290.5h8.1v6.3h-8.1zM514.7 296.5h16.3v6h-16.3zM782.7 296.5h8.1v6h-8.1zM514.7 302.2h16.3v5.9h-16.3zM734 302.2h16.2v5.9h-16.2zM758.3 302.2h8.1v5.9h-8.1zM774.6 302.2h8.1v5.9h-8.1zM531 307.8h16.2v5.8h-16.2zM725.8 307.8h8.2v5.8h-8.2zM766.4 307.8h8.2v5.8h-8.2zM531 313.3h16.2v5.6h-16.2zM725.8 313.3h8.2v5.6h-8.2zM539.1 318.6h16.2v5.4h-16.2zM717.7 318.6h8.1v5.4h-8.1zM539.1 323.7h16.2v5.3h-16.2zM709.6 323.7h16.2v5.3h-16.2zM693.4 328.7h16.2v5.2h-16.2zM693.4 333.6h16.2v5.1h-16.2zM555.3 338.4h8.1v5h-8.1zM685.2 338.4h8.2v5h-8.2zM555.3 343.1h8.1v4.8h-8.1zM685.2 343.1h8.2v4.8h-8.2zM677.1 347.6h8.1v4.7h-8.1zM563.4 352h8.2v4.7h-8.2zM669 352h8.1v4.7h-8.1zM563.4 356.4h8.2v4.5h-8.2zM669 356.4h8.1v4.5h-8.1zM563.4 360.6h16.3v4.4h-16.3zM660.9 360.6h16.2v4.4h-16.2zM571.6 364.7h8.1v4.3h-8.1zM660.9 364.7h8.1v4.3h-8.1zM579.7 368.7h8.1v4.3h-8.1zM652.8 368.7h8.1v4.3h-8.1zM579.7 372.7h8.1v4.1h-8.1zM652.8 372.7h8.1v4.1h-8.1zM579.7 376.5h8.1v4.1h-8.1zM652.8 376.5h8.1v4.1h-8.1zM579.7 380.3h40.6v3.9h-40.6zM652.8 380.3h8.1v3.9h-8.1zM587.8 383.9h32.5v3.9h-32.5zM620.3 387.5h32.5v3.9h-32.5zM620.3 391.1h32.5v3.7h-32.5zM620.3 394.5h32.5v3.7h-32.5zM620.3 397.9h32.5v3.6h-32.5zM628.4 401.2h24.4v3.5h-24.4zM628.4 404.4h24.4v3.5h-24.4zM628.4 407.6h24.4v3.4h-24.4zM628.4 410.7h24.4v3.3h-24.4zM628.4 413.7h24.4v3.3h-24.4zM636.5 416.7h8.1v3.2h-8.1zM636.5 419.6h8.1v3.3h-8.1z"/>
<path fill="#4f1716" d="M872 161.2h8.1v5.4h-8.1zM872 166.3h8.1v5.2h-8.1zM863.9 180.9h8.1v5.1h-8.1zM863.9 185.7h8.1v4.9h-8.1zM855.8 190.3h8.1v4.9h-8.1zM831.4 199.3h16.2v4.7h-16.2zM831.4 203.7h8.1v4.6h-8.1zM823.3 208h8.1v4.6h-8.1zM815.2 216.5h8.1v4.4h-8.1zM563.4 313.3h8.2v5.6h-8.2zM660.9 333.6h8.1v5.1h-8.1zM652.8 343.1h8.1v4.8h-8.1zM636.5 347.6h8.1v4.7h-8.1zM587.8 356.4h24.4v4.5h-24.4z"/>
<path fill="#1f0e0e" d="M880.1 171.2h8.1v5.3h-8.1zM872 194.9h8.1v4.7h-8.1zM863.9 203.7h8.1v4.6h-8.1zM855.8 208h8.1v4.6h-8.1zM847.6 212.3h8.2v4.5h-8.2zM831.4 224.6h8.1v4.3h-8.1zM823.3 232.5h8.1v4.2h-8.1zM807 247.6h16.3v3.9h-16.3zM509.8 302.2h4.9v5.9h-4.9zM790.8 302.2h8.1v5.9h-8.1zM509.8 307.8h4.9v5.8h-4.9zM782.7 307.8h16.2v5.8h-16.2zM509.8 313.3h4.9v5.6h-4.9zM742.1 313.3h24.3v5.6h-24.3zM774.6 313.3h8.1v5.6h-8.1zM509.8 318.6h4.9v5.4h-4.9zM742.1 318.6h40.6v5.4h-40.6zM509.8 323.7h13v5.3h-13zM725.8 323.7h16.3v5.3h-16.3zM509.8 328.7h13v5.2h-13zM725.8 328.7h16.3v5.2h-16.3zM514.7 333.6h16.3v5.1h-16.3zM717.7 333.6h8.1v5.1h-8.1zM514.7 338.4h16.3v5h-16.3zM717.7 338.4h8.1v5h-8.1zM522.8 343.1h8.2v4.8h-8.2zM522.8 347.6h32.5v4.7h-32.5zM693.4 347.6h24.3v4.7h-24.3zM522.8 352h32.5v4.7h-32.5zM693.4 352h24.3v4.7h-24.3zM531 356.4h24.3v4.5h-24.3zM531 360.6h32.4v4.4h-32.4zM677.1 360.6h16.3v4.4h-16.3zM531 364.7h32.4v4.3h-32.4zM677.1 364.7h16.3v4.3h-16.3zM531 368.7h32.4v4.3h-32.4zM677.1 368.7h16.3v4.3h-16.3zM547.2 372.7h16.2v4.1h-16.2zM677.1 372.7h8.1v4.1h-8.1zM547.2 376.5h24.4v4.1h-24.4zM669 376.5h16.2v4.1h-16.2zM547.2 380.3h24.4v3.9h-24.4zM669 380.3h16.2v3.9h-16.2zM547.2 383.9h24.4v3.9h-24.4zM669 383.9h16.2v3.9h-16.2zM547.2 387.5h24.4v3.9h-24.4zM669 387.5h16.2v3.9h-16.2zM555.3 391.1h16.3v3.7h-16.3zM669 391.1h8.1v3.7h-8.1zM555.3 394.5h32.5v3.7h-32.5zM669 394.5h8.1v3.7h-8.1zM555.3 397.9h32.5v3.6h-32.5zM669 397.9h8.1v3.6h-8.1zM555.3 401.2h32.5v3.5h-32.5zM669 401.2h8.1v3.5h-8.1zM555.3 404.4h32.5v3.5h-32.5zM669 404.4h8.1v3.5h-8.1zM563.4 407.6h24.4v3.4h-24.4zM563.4 410.7h40.6v3.3h-40.6zM660.9 410.7h8.1v3.3h-8.1zM563.4 413.7h40.6v3.3h-40.6zM660.9 413.7h8.1v3.3h-8.1zM563.4 416.7h40.6v3.2h-40.6zM660.9 416.7h8.1v3.2h-8.1zM563.4 419.6h40.6v3.3h-40.6zM660.9 419.6h8.1v3.3h-8.1z"/>
<path fill="#301111" d="M522.8 176.2h16.3v5h-16.3zM872 180.9h8.1v5.1h-8.1zM872 185.7h8.1v4.9h-8.1zM863.9 194.9h8.1v4.7h-8.1zM855.8 199.3h8.1v4.7h-8.1zM847.6 203.7h8.2v4.6h-8.2zM839.5 212.3h8.1v4.5h-8.1zM831.4 216.5h8.1v4.4h-8.1zM782.7 290.5h8.1v6.3h-8.1zM531 302.2h16.2v5.9h-16.2zM750.2 302.2h8.1v5.9h-8.1zM547.2 313.3h8.1v5.6h-8.1zM701.5 323.7h8.1v5.3h-8.1zM555.3 333.6h8.1v5.1h-8.1zM685.2 333.6h8.2v5.1h-8.2zM563.4 343.1h8.2v4.8h-8.2zM677.1 343.1h8.1v4.8h-8.1zM563.4 347.6h8.2v4.7h-8.2zM669 347.6h8.1v4.7h-8.1zM571.6 356.4h8.1v4.5h-8.1zM660.9 356.4h8.1v4.5h-8.1zM579.7 364.7h8.1v4.3h-8.1zM652.8 364.7h8.1v4.3h-8.1zM587.8 372.7h65v4.1h-65zM587.8 376.5h65v4.1h-65zM620.3 380.3h32.5v3.9h-32.5zM620.3 383.9h32.5v3.9h-32.5z"/>
<path fill="#1a0d0e" d="M880.1 176.2h8.1v5h-8.1zM872 199.3h8.1v4.7h-8.1zM872 203.7h8.1v4.6h-8.1zM863.9 208h8.1v4.6h-8.1zM855.8 212.3h16.2v4.5h-16.2zM847.6 216.5h8.2v4.4h-8.2zM782.7 313.3h16.2v5.6h-16.2zM742.1 323.7h40.6v5.3h-40.6zM509.8 333.6h4.9v5.1h-4.9zM725.8 333.6h16.3v5.1h-16.3zM514.7 343.1h8.1v4.8h-8.1zM717.7 343.1h8.1v4.8h-8.1zM514.7 347.6h8.1v4.7h-8.1zM717.7 347.6h8.1v4.7h-8.1zM522.8 356.4h8.2v4.5h-8.2zM693.4 356.4h24.3v4.5h-24.3zM522.8 360.6h8.2v4.4h-8.2zM693.4 360.6h24.3v4.4h-24.3zM522.8 364.7h8.2v4.3h-8.2zM693.4 364.7h24.3v4.3h-24.3zM531 372.7h16.2v4.1h-16.2zM685.2 372.7h8.2v4.1h-8.2zM531 376.5h16.2v4.1h-16.2zM685.2 376.5h8.2v4.1h-8.2zM531 380.3h16.2v3.9h-16.2zM685.2 380.3h8.2v3.9h-8.2zM531 383.9h16.2v3.9h-16.2zM685.2 383.9h8.2v3.9h-8.2zM547.2 391.1h8.1v3.7h-8.1zM677.1 391.1h8.1v3.7h-8.1zM547.2 394.5h8.1v3.7h-8.1zM677.1 394.5h8.1v3.7h-8.1zM547.2 397.9h8.1v3.6h-8.1zM677.1 397.9h8.1v3.6h-8.1zM547.2 401.2h8.1v3.5h-8.1zM677.1 401.2h8.1v3.5h-8.1zM555.3 407.6h8.1v3.4h-8.1zM669 407.6h8.1v3.4h-8.1zM555.3 410.7h8.1v3.3h-8.1zM669 410.7h8.1v3.3h-8.1zM555.3 413.7h8.1v3.3h-8.1zM669 413.7h8.1v3.3h-8.1zM555.3 416.7h8.1v3.2h-8.1zM669 416.7h8.1v3.2h-8.1z"/>
<path fill="#fefcda" d="M620.3 180.9h8.1v5.1h-8.1z"/>
<path fill="#160c0d" d="M880.1 180.9h8.1v5.1h-8.1zM880.1 185.7h8.1v4.9h-8.1zM880.1 190.3h8.1v4.9h-8.1zM872 208h8.1v4.6h-8.1zM855.8 216.5h16.2v4.4h-16.2zM839.5 220.6h16.3v4.3h-16.3zM831.4 228.6h8.1v4.2h-8.1zM823.3 236.4h8.1v4.1h-8.1zM807 251.2h16.3v3.8h-16.3zM798.9 284.5h8.1v6.3h-8.1zM798.9 290.5h8.1v6.3h-8.1zM782.7 318.6h16.2v5.4h-16.2zM782.7 323.7h16.2v5.3h-16.2zM742.1 328.7h40.6v5.2h-40.6zM742.1 333.6h40.6v5.1h-40.6zM509.8 338.4h4.9v5h-4.9zM725.8 338.4h24.4v5h-24.4zM509.8 343.1h4.9v4.8h-4.9zM725.8 343.1h24.4v4.8h-24.4zM509.8 347.6h4.9v4.7h-4.9zM725.8 347.6h8.2v4.7h-8.2zM509.8 352h13v4.7h-13zM717.7 352h16.3v4.7h-16.3zM509.8 356.4h13v4.5h-13zM717.7 356.4h16.3v4.5h-16.3zM509.8 360.6h13v4.4h-13zM717.7 360.6h16.3v4.4h-16.3zM509.8 364.7h13v4.3h-13zM717.7 364.7h8.1v4.3h-8.1zM509.8 368.7h21.2v4.3h-21.2zM693.4 368.7h32.4v4.3h-32.4zM509.8 372.7h21.2v4.1h-21.2zM693.4 372.7h32.4v4.1h-32.4zM509.8 376.5h21.2v4.1h-21.2zM693.4 376.5h32.4v4.1h-32.4zM509.8 380.3h21.2v3.9h-21.2zM693.4 380.3h32.4v3.9h-32.4zM509.8 383.9h21.2v3.9h-21.2zM693.4 383.9h8.1v3.9h-8.1zM509.8 387.5h37.4v3.9h-37.4zM685.2 387.5h16.3v3.9h-16.3zM509.8 391.1h37.4v3.7h-37.4zM685.2 391.1h16.3v3.7h-16.3zM509.8 394.5h37.4v3.7h-37.4zM685.2 394.5h16.3v3.7h-16.3zM509.8 397.9h37.4v3.6h-37.4zM685.2 397.9h16.3v3.6h-16.3zM509.8 401.2h37.4v3.5h-37.4zM685.2 401.2h8.2v3.5h-8.2zM509.8 404.4h45.5v3.5h-45.5zM677.1 404.4h16.3v3.5h-16.3zM509.8 407.6h45.5v3.4h-45.5zM677.1 407.6h16.3v3.4h-16.3zM509.8 410.7h45.5v3.3h-45.5zM677.1 410.7h16.3v3.3h-16.3zM509.8 413.7h45.5v3.3h-45.5zM677.1 413.7h16.3v3.3h-16.3zM509.8 416.7h45.5v3.2h-45.5zM677.1 416.7h8.1v3.2h-8.1zM509.8 419.6h53.6v3.3h-53.6zM669 419.6h16.2v3.3h-16.2z"/>
<path fill="#d65820" d="M579.7 185.7h8.1v4.9h-8.1zM734 190.3h8.1v4.9h-8.1zM742.1 208h8.1v4.6h-8.1zM790.8 212.3h8.1v4.5h-8.1zM587.8 228.6h8.1v4.2h-8.1zM571.6 243.9h8.1v4h-8.1zM693.4 243.9h8.1v4h-8.1zM701.5 247.6h8.1v3.9h-8.1zM717.7 251.2h24.4v3.8h-24.4zM660.9 290.5h8.1v6.3h-8.1zM604 302.2h8.2v5.9h-8.2z"/>
<path fill="#fffef6" d="M620.3 185.7h8.1v4.9h-8.1z"/>
<path fill="#ffffff" d="M620.3 190.3h8.1v4.9h-8.1zM620.3 194.9h8.1v4.7h-8.1zM620.3 199.3h8.1v4.7h-8.1zM620.3 203.7h8.1v4.6h-8.1z"/>
<path fill="#ec7320" d="M734 194.9h8.1v4.7h-8.1zM790.8 208h8.1v4.6h-8.1zM742.1 212.3h8.1v4.5h-8.1zM587.8 224.6h8.1v4.3h-8.1zM693.4 240.2h8.1v4h-8.1zM701.5 243.9h16.2v4h-16.2zM717.7 247.6h24.4v3.9h-24.4zM677.1 254.7h8.1v3.9h-8.1zM604 290.5h16.3v6.3h-16.3zM652.8 290.5h8.1v6.3h-8.1zM636.5 302.2h8.1v5.9h-8.1z"/>
<path fill="#110b0c" d="M880.1 194.9h8.1v4.7h-8.1zM880.1 199.3h8.1v4.7h-8.1zM880.1 203.7h8.1v4.6h-8.1zM880.1 208h8.1v4.6h-8.1zM872 212.3h16.2v4.5h-16.2zM872 216.5h16.2v4.4h-16.2zM855.8 220.6h32.4v4.3h-32.4zM839.5 224.6h48.7v4.3h-48.7zM839.5 228.6h48.7v4.2h-48.7zM831.4 232.5h56.8v4.2h-56.8zM831.4 236.4h56.8v4.1h-56.8zM823.3 240.2h64.9v4h-64.9zM823.3 243.9h64.9v4h-64.9zM823.3 247.6h64.9v3.9h-64.9zM823.3 251.2h64.9v3.8h-64.9zM807 254.7h81.2v3.9h-81.2zM807 258.3h81.2v7.1h-81.2zM798.9 265.1h89.3v7h-89.3zM798.9 271.8h89.3v6.7h-89.3zM798.9 278.2h89.3v6.6h-89.3zM807 284.5h81.2v6.3h-81.2zM807 290.5h81.2v6.3h-81.2zM798.9 296.5h89.3v6h-89.3zM798.9 302.2h89.3v5.9h-89.3zM798.9 307.8h89.3v5.8h-89.3zM798.9 313.3h89.3v5.6h-89.3zM798.9 318.6h89.3v5.4h-89.3zM798.9 323.7h89.3v5.3h-89.3zM782.7 328.7h105.5v5.2h-105.5zM782.7 333.6h105.5v5.1h-105.5zM750.2 338.4h138v5h-138zM750.2 343.1h138v4.8h-138zM734 347.6h154.2v4.7h-154.2zM734 352h154.2v4.7h-154.2zM734 356.4h154.2v4.5h-154.2zM734 360.6h154.2v4.4h-154.2zM725.8 364.7h162.4v4.3h-162.4zM725.8 368.7h162.4v4.3h-162.4zM725.8 372.7h162.4v4.1h-162.4zM725.8 376.5h162.4v4.1h-162.4zM725.8 380.3h162.4v3.9h-162.4zM701.5 383.9h186.7v3.9h-186.7zM701.5 387.5h186.7v3.9h-186.7zM701.5 391.1h186.7v3.7h-186.7zM701.5 394.5h186.7v3.7h-186.7zM701.5 397.9h186.7v3.6h-186.7zM693.4 401.2h194.8v3.5h-194.8zM693.4 404.4h194.8v3.5h-194.8zM693.4 407.6h194.8v3.4h-194.8zM693.4 410.7h194.8v3.3h-194.8zM693.4 413.7h194.8v3.3h-194.8zM685.2 416.7h203v3.2h-203zM685.2 419.6h203v3.3h-203z"/>
<path fill="#fffefa" d="M620.3 208h8.1v4.6h-8.1z"/>
<path fill="#fffef1" d="M620.3 212.3h8.1v4.5h-8.1z"/>
</g>
<rect x="264.5" y="65" width="8.8" height="360" fill="#efe436"/>
<rect x="360.8" y="65" width="8.7" height="360" fill="#efe436"/>
<rect x="603.0" y="65" width="9.0" height="360" fill="#efe436"/>
<rect x="786.7" y="65" width="9.0" height="360" fill="#efe436"/>
<rect x="123.2" y="67" width="769.3" height="3.8" fill="#121413"/>
<line x1="125.3" x2="506" y1="151.5" y2="151.5" stroke="#fff" stroke-width="4.6" stroke-dasharray="26.6 25.25"/>
<line x1="508.5" x2="889" y1="151.5" y2="151.5" stroke="#fff" stroke-width="4.6" stroke-dasharray="26.6 25.25"/>
<line x1="125.3" x2="506" y1="260.1" y2="260.1" stroke="#fff" stroke-width="4.6" stroke-dasharray="26.6 25.25"/>
<line x1="508.5" x2="889" y1="260.1" y2="260.1" stroke="#fff" stroke-width="4.6" stroke-dasharray="26.6 25.25"/>
<line x1="125.3" x2="506" y1="332.2" y2="332.2" stroke="#fff" stroke-width="4.6" stroke-dasharray="26.6 25.25"/>
<line x1="508.5" x2="889" y1="332.2" y2="332.2" stroke="#fff" stroke-width="4.6" stroke-dasharray="26.6 25.25"/>
<rect x="126.5" y="421.7" width="762" height="3.6" fill="#fff"/>
<rect x="505.8" y="66.6" width="4.2" height="359" fill="#fff"/>
<rect x="200.9" y="70.5" width="2.6" height="16" fill="#fff"/>
<rect x="200.9" y="408.5" width="2.6" height="18.8" fill="#fff"/>
<rect x="281.9" y="70.5" width="2.6" height="16" fill="#fff"/>
<rect x="281.9" y="408.5" width="2.6" height="18.8" fill="#fff"/>
<rect x="444.3" y="70.5" width="2.6" height="16" fill="#fff"/>
<rect x="444.3" y="408.5" width="2.6" height="18.8" fill="#fff"/>
<rect x="544.9" y="70.5" width="2.6" height="16" fill="#fff"/>
<rect x="544.9" y="408.5" width="2.6" height="18.8" fill="#fff"/>
<rect x="626.3" y="70.5" width="2.6" height="16" fill="#fff"/>
<rect x="626.3" y="408.5" width="2.6" height="18.8" fill="#fff"/>
<rect x="707.5" y="70.5" width="2.6" height="16" fill="#fff"/>
<rect x="707.5" y="408.5" width="2.6" height="18.8" fill="#fff"/>
<rect x="870.5" y="70.5" width="2.6" height="16" fill="#fff"/>
<rect x="870.5" y="408.5" width="2.6" height="18.8" fill="#fff"/>
<rect x="363.3" y="70.5" width="2.6" height="16" fill="#fff"/>
<rect x="363.3" y="408.5" width="2.6" height="18.8" fill="#fff"/>
<rect x="789.2" y="70.5" width="2.6" height="16" fill="#fff"/>
<rect x="789.2" y="408.5" width="2.6" height="18.8" fill="#fff"/>
<rect x="126.5" y="68.1" width="17.5" height="2.6" fill="#fff"/>
<rect x="508" y="68.1" width="17" height="2.6" fill="#fff"/>
<rect x="490" y="68.1" width="17" height="2.6" fill="#fff"/>
<rect x="872.5" y="68.1" width="17.5" height="2.6" fill="#fff"/>
<rect x="126.5" y="139.5" width="17.5" height="2.6" fill="#fff"/>
<rect x="490" y="139.5" width="35" height="2.6" fill="#fff"/>
<rect x="872.5" y="139.5" width="17.5" height="2.6" fill="#fff"/>
<rect x="126.5" y="210.9" width="17.5" height="2.6" fill="#fff"/>
<rect x="490" y="210.9" width="35" height="2.6" fill="#fff"/>
<rect x="872.5" y="210.9" width="17.5" height="2.6" fill="#fff"/>
<rect x="126.5" y="282.4" width="17.5" height="2.6" fill="#fff"/>
<rect x="490" y="282.4" width="35" height="2.6" fill="#fff"/>
<rect x="872.5" y="282.4" width="17.5" height="2.6" fill="#fff"/>
<rect x="126.5" y="353.8" width="17.5" height="2.6" fill="#fff"/>
<rect x="490" y="353.8" width="35" height="2.6" fill="#fff"/>
<rect x="872.5" y="353.8" width="17.5" height="2.6" fill="#fff"/>
<rect x="126.5" y="424.9" width="17.5" height="2.6" fill="#fff"/>
<rect x="490" y="424.9" width="35" height="2.6" fill="#fff"/>
<rect x="872.5" y="424.9" width="17.5" height="2.6" fill="#fff"/>
<rect x="123.2" y="425.3" width="768" height="7.7" fill="#121413"/>
<rect x="200.9" y="425" width="2.6" height="2.4" fill="#fff"/>
<rect x="281.9" y="425" width="2.6" height="2.4" fill="#fff"/>
<rect x="363.3" y="425" width="2.6" height="2.4" fill="#fff"/>
<rect x="444.3" y="425" width="2.6" height="2.4" fill="#fff"/>
<rect x="544.9" y="425" width="2.6" height="2.4" fill="#fff"/>
<rect x="626.3" y="425" width="2.6" height="2.4" fill="#fff"/>
<rect x="707.5" y="425" width="2.6" height="2.4" fill="#fff"/>
<rect x="789.2" y="425" width="2.6" height="2.4" fill="#fff"/>
<rect x="870.5" y="425" width="2.6" height="2.4" fill="#fff"/>
<rect x="873" y="424.9" width="17.4" height="2.8" fill="#fff"/>
<rect x="490" y="424.9" width="35" height="2.8" fill="#fff"/>
<rect x="126.5" y="424.9" width="17.5" height="2.8" fill="#fff"/>
<rect x="135" y="76" width="55" height="52" fill="#fff"/>
<rect x="518" y="76" width="55.4" height="52" fill="#fff"/>
<rect x="268" y="432" width="96.2" height="349" fill="#fdfbe2"/>
<rect x="606.8" y="432" width="183.2" height="349" fill="#fdfbe2"/>
<rect x="200.3" y="432" width="2.2" height="16" fill="#121413"/>
<rect x="200.3" y="765" width="2.2" height="16" fill="#121413"/>
<rect x="281.7" y="432" width="2.2" height="16" fill="#121413"/>
<rect x="281.7" y="765" width="2.2" height="16" fill="#121413"/>
<rect x="444.3" y="432" width="2.2" height="16" fill="#121413"/>
<rect x="444.3" y="765" width="2.2" height="16" fill="#121413"/>
<rect x="544.7" y="432" width="2.2" height="16" fill="#121413"/>
<rect x="544.7" y="765" width="2.2" height="16" fill="#121413"/>
<rect x="625.7" y="432" width="2.2" height="16" fill="#121413"/>
<rect x="625.7" y="765" width="2.2" height="16" fill="#121413"/>
<rect x="707.3" y="432" width="2.2" height="16" fill="#121413"/>
<rect x="707.3" y="765" width="2.2" height="16" fill="#121413"/>
<rect x="870.1" y="432" width="2.2" height="16" fill="#121413"/>
<rect x="870.1" y="765" width="2.2" height="16" fill="#121413"/>
<rect x="126" y="490.1" width="17.5" height="2.2" fill="#121413"/>
<rect x="490" y="490.1" width="34" height="2.2" fill="#121413"/>
<rect x="872" y="490.1" width="16" height="2.2" fill="#121413"/>
<rect x="126" y="611.1" width="17.5" height="2.2" fill="#121413"/>
<rect x="490" y="611.1" width="34" height="2.2" fill="#121413"/>
<rect x="872" y="611.1" width="16" height="2.2" fill="#121413"/>
<rect x="126" y="732.5" width="17.5" height="2.2" fill="#121413"/>
<rect x="490" y="732.5" width="34" height="2.2" fill="#121413"/>
<rect x="872" y="732.5" width="16" height="2.2" fill="#121413"/>
<clipPath id="cc"><rect x="125" y="430" width="382.5" height="352"/></clipPath>
<clipPath id="cd"><rect x="507.5" y="430" width="382" height="352"/></clipPath>
<g clip-path="url(#cc)">
<polyline points="213.0,772.0 223.0,762.0 232.0,757.0 240.0,748.0 247.0,726.0 263.0,707.0 272.0,712.0 279.0,728.0 287.4,706.0 296.0,722.0 304.0,705.0 312.0,716.0 320.0,748.0 328.0,763.0 336.0,764.0 345.0,770.0 353.0,773.0 361.0,766.0 370.0,774.0 382.0,780.0 392.0,785.0" fill="none" stroke="#22893b" stroke-width="9" stroke-linejoin="round" stroke-linecap="butt"/>
<polyline points="213.0,760.0 254.0,678.0 259.0,650.0 263.0,610.0 271.0,578.0 279.0,600.0 288.0,592.0 295.4,533.0 301.0,610.0 304.0,630.0 312.0,625.0 328.0,654.0 344.0,734.0 358.0,736.0 369.0,760.0 377.0,761.0 387.0,770.0 396.0,775.0 412.0,780.0" fill="none" stroke="#e02c22" stroke-width="9" stroke-linejoin="round" stroke-linecap="butt"/>
<polyline points="213.0,753.0 225.0,722.0 233.0,706.0 247.0,680.0 251.0,650.0 255.0,610.0 263.0,511.5 271.0,504.5 288.0,558.0 298.0,557.0 306.0,542.0 312.4,490.5 330.0,588.0 335.0,610.0 338.0,622.0 352.0,735.0 360.0,657.0 369.0,668.0 376.0,692.0 385.0,697.0 394.0,695.0 402.0,691.0 409.0,757.0 419.0,776.0" fill="none" stroke="#121413" stroke-width="9" stroke-linejoin="round" stroke-linecap="butt"/>
</g><g clip-path="url(#cd)">
<polyline points="508.0,764.0 523.0,758.0 548.0,744.0 556.0,733.0 564.0,731.0 571.0,708.0 581.0,698.0 591.0,668.0 596.0,675.0 609.0,673.0 629.0,679.0 638.0,677.0 645.0,703.0 655.0,708.0 663.0,714.0 670.0,730.0 678.0,741.0 686.0,743.0 700.0,748.0 710.0,749.0 719.0,749.0 727.0,758.0 735.0,762.0 743.0,757.0 752.0,760.0 767.0,770.0 776.0,767.0 784.0,759.0 792.0,778.0 800.0,783.0 803.0,787.0" fill="none" stroke="#22893b" stroke-width="9" stroke-linejoin="round" stroke-linecap="butt"/>
<polyline points="508.0,752.0 526.0,733.0 538.0,722.0 548.0,718.0 556.0,719.0 562.0,690.0 567.0,650.0 572.0,607.0 582.0,620.0 588.0,600.0 603.0,469.0 613.0,504.0 621.0,493.0 628.0,540.0 637.0,534.0 645.0,560.0 653.0,513.0 668.0,610.0 670.0,618.0 686.0,644.0 702.0,664.0 711.0,662.0 727.0,642.0 742.0,665.0 759.0,684.0 767.0,649.0 773.0,720.0 782.0,708.0 793.0,708.0 799.0,754.0 808.0,764.0 816.0,773.0 830.0,776.0 844.0,780.0 858.0,784.0" fill="none" stroke="#e02c22" stroke-width="9" stroke-linejoin="round" stroke-linecap="butt"/>
<polyline points="508.0,758.0 515.0,746.0 523.0,736.0 531.0,731.0 540.0,736.0 548.0,727.0 555.0,695.0 563.0,706.0 571.0,702.0 579.0,689.0 586.0,664.0 591.0,634.0 594.0,612.0 598.0,580.0 604.0,501.5 612.0,530.0 620.0,519.0 630.0,528.0 636.0,566.0 645.0,576.0 662.0,578.0 670.0,564.0 679.0,534.0 686.0,489.0 694.0,487.5 702.0,494.0 718.0,536.0 729.0,610.0 735.0,642.0 742.0,657.0 752.0,672.0 760.0,696.0 767.0,729.0 775.0,727.0 783.0,610.0 793.0,556.0 795.0,610.0 800.0,668.0 808.0,676.0 816.0,697.0 824.0,702.0 832.0,713.0 840.0,692.0 848.0,717.0 856.0,727.0 865.0,721.0 873.0,738.0 881.0,772.0 887.0,778.0" fill="none" stroke="#121413" stroke-width="9" stroke-linejoin="round" stroke-linecap="butt"/>
</g>
<rect x="266.0" y="430" width="4.0" height="352" fill="#121413"/>
<rect x="362.1" y="430" width="4.2" height="352" fill="#121413"/>
<rect x="604.6" y="430" width="4.4" height="352" fill="#121413"/>
<rect x="788.0" y="430" width="4.0" height="352" fill="#121413"/>
<rect x="123.2" y="428" width="4.4" height="356" fill="#121413"/>
<rect x="505" y="428" width="4.6" height="356" fill="#121413"/>
<rect x="887.3" y="428" width="3.8" height="356" fill="#121413"/>
<rect x="123.2" y="779.8" width="767.9" height="4.3" fill="#121413"/>
<rect x="330" y="453.6" width="32.5" height="8.8" fill="#22893b"/>
<rect x="330" y="495.6" width="32.5" height="8.8" fill="#e02c22"/>
<rect x="330" y="537.6" width="32.5" height="8.8" fill="#121413"/>
<defs><linearGradient id="cb" x1="0" y1="1" x2="0" y2="0">
<stop offset="0.0000" stop-color="#110b0c"/>
<stop offset="0.0690" stop-color="#240f0f"/>
<stop offset="0.1379" stop-color="#3c1313"/>
<stop offset="0.2069" stop-color="#621b18"/>
<stop offset="0.2759" stop-color="#86231f"/>
<stop offset="0.3103" stop-color="#962822"/>
<stop offset="0.3448" stop-color="#aa3425"/>
<stop offset="0.4138" stop-color="#ca4c22"/>
<stop offset="0.4828" stop-color="#e2641e"/>
<stop offset="0.5517" stop-color="#f58222"/>
<stop offset="0.6207" stop-color="#fba532"/>
<stop offset="0.6552" stop-color="#faba42"/>
<stop offset="0.6897" stop-color="#f6ce56"/>
<stop offset="0.7241" stop-color="#f8e064"/>
<stop offset="0.7586" stop-color="#faee78"/>
<stop offset="0.8276" stop-color="#fcf5a0"/>
<stop offset="0.8966" stop-color="#fdfac8"/>
<stop offset="0.9655" stop-color="#fffdec"/>
<stop offset="1" stop-color="#fffef6"/>
</linearGradient></defs>
<rect x="911.8" y="67.3" width="21.6" height="361.2" fill="#121413"/>
<rect x="915.4" y="70.8" width="14.4" height="354.5" fill="url(#cb)"/>
<rect x="915" y="314.9" width="15" height="1.6" fill="#121413"/>
<rect x="915" y="191.7" width="15" height="1.6" fill="#121413"/>
<g font-family='"Liberation Sans", sans-serif' fill="#121413" stroke="#121413" stroke-width="0.3" opacity="0.999">
<text x="112.0" y="80.8" font-size="41.3" text-anchor="end" textLength="65.5" lengthAdjust="spacingAndGlyphs" >900</text>
<text x="112.0" y="152.0" font-size="41.3" text-anchor="end" textLength="65.5" lengthAdjust="spacingAndGlyphs" >800</text>
<text x="112.0" y="223.6" font-size="41.3" text-anchor="end" textLength="65.5" lengthAdjust="spacingAndGlyphs" >700</text>
<text x="112.0" y="294.9" font-size="41.3" text-anchor="end" textLength="65.5" lengthAdjust="spacingAndGlyphs" >600</text>
<text x="112.0" y="366.4" font-size="41.3" text-anchor="end" textLength="65.5" lengthAdjust="spacingAndGlyphs" >500</text>
<text x="112.0" y="439.6" font-size="41.3" text-anchor="end" textLength="65.5" lengthAdjust="spacingAndGlyphs" >400</text>
<text x="112.0" y="504.4" font-size="41.3" text-anchor="end" textLength="43.6" lengthAdjust="spacingAndGlyphs" >25</text>
<text x="112.0" y="625.4" font-size="41.3" text-anchor="end" textLength="43.6" lengthAdjust="spacingAndGlyphs" >15</text>
<text x="112.0" y="746.9" font-size="41.3" text-anchor="end" textLength="21.8" lengthAdjust="spacingAndGlyphs" >5</text>
<text x="112.0" y="795.0" font-size="41.3" text-anchor="end" textLength="21.8" lengthAdjust="spacingAndGlyphs" >1</text>
<text x="949.0" y="81.0" font-size="41.3" text-anchor="start" textLength="43.6" lengthAdjust="spacingAndGlyphs" >30</text>
<text x="949.0" y="203.6" font-size="41.3" text-anchor="start" textLength="43.6" lengthAdjust="spacingAndGlyphs" >20</text>
<text x="949.0" y="326.8" font-size="41.3" text-anchor="start" textLength="43.6" lengthAdjust="spacingAndGlyphs" >10</text>
<text x="949.0" y="438.0" font-size="41.3" text-anchor="start" textLength="21.8" lengthAdjust="spacingAndGlyphs" >1</text>
<text x="204.0" y="828.4" font-size="41.3" text-anchor="middle" textLength="43.5" lengthAdjust="spacingAndGlyphs" >80</text>
<text x="284.0" y="828.4" font-size="41.3" text-anchor="middle" textLength="44.0" lengthAdjust="spacingAndGlyphs" >40</text>
<text x="365.5" y="828.4" font-size="41.3" text-anchor="middle" textLength="21.8" lengthAdjust="spacingAndGlyphs" >0</text>
<text x="446.0" y="828.4" font-size="41.3" text-anchor="middle" textLength="55.0" lengthAdjust="spacingAndGlyphs" >-40</text>
<text x="549.0" y="828.4" font-size="41.3" text-anchor="middle" textLength="63.5" lengthAdjust="spacingAndGlyphs" >120</text>
<text x="628.3" y="828.4" font-size="41.3" text-anchor="middle" textLength="43.5" lengthAdjust="spacingAndGlyphs" >80</text>
<text x="709.4" y="828.4" font-size="41.3" text-anchor="middle" textLength="44.0" lengthAdjust="spacingAndGlyphs" >40</text>
<text x="791.0" y="828.4" font-size="41.3" text-anchor="middle" textLength="21.8" lengthAdjust="spacingAndGlyphs" >0</text>
<text x="872.6" y="828.4" font-size="41.3" text-anchor="middle" textLength="55.0" lengthAdjust="spacingAndGlyphs" >-40</text>
<text x="313.5" y="49.8" font-size="33.2" text-anchor="middle" textLength="81.0" lengthAdjust="spacingAndGlyphs" >Au10</text>
<text x="684.0" y="49.7" font-size="33.2" text-anchor="middle" textLength="81.0" lengthAdjust="spacingAndGlyphs" >Au20</text>
<text x="247.5" y="867.5" font-size="38" text-anchor="start" textLength="520.5" lengthAdjust="spacingAndGlyphs" >Vertical Position / Depth (nm)</text>
<text transform="translate(26.6,383) rotate(-90)" font-size="38" textLength="272.5" lengthAdjust="spacingAndGlyphs">Wavelength (nm)</text>
<text x="144.0" y="109.5" font-size="35.5" text-anchor="start" textLength="39.5" lengthAdjust="spacingAndGlyphs" >(a)</text>
<text x="527.0" y="109.3" font-size="35.5" text-anchor="start" textLength="41.5" lengthAdjust="spacingAndGlyphs" >(b)</text>
<text x="145.5" y="476.8" font-size="35.5" text-anchor="start" textLength="37.5" lengthAdjust="spacingAndGlyphs" >(c)</text>
<text x="530.5" y="478.0" font-size="35.5" text-anchor="start" textLength="40.0" lengthAdjust="spacingAndGlyphs" >(d)</text>
<text x="377.6" y="472.4" font-size="35.6" text-anchor="start" textLength="118.0" lengthAdjust="spacingAndGlyphs" >532 nm</text>
<text x="377.6" y="513.8" font-size="35.6" text-anchor="start" textLength="118.0" lengthAdjust="spacingAndGlyphs" >633 nm</text>
<text x="377.6" y="555.6" font-size="35.6" text-anchor="start" textLength="118.0" lengthAdjust="spacingAndGlyphs" >785 nm</text>
</g>
<g opacity="0.999" transform="translate(870,37.6)"><rect x="0" y="-29" width="1.7" height="39" fill="#121413"/><text x="6.5" y="0" font-family='"Liberation Serif", serif' font-style="italic" font-size="39.5" textLength="29" lengthAdjust="spacingAndGlyphs" fill="#121413" stroke="#fff" stroke-width="0.35">E</text><path d="M10.5 -33.2 H27.5 M22.5 -36.800000000000004 Q24.5 -34.2 28 -33.2 Q24.5 -32.2 22.5 -29.6" fill="none" stroke="#121413" stroke-width="1.7"/><rect x="39.3" y="-29" width="1.7" height="39" fill="#121413"/><line x1="48.5" y1="9.5" x2="62.5" y2="-29" stroke="#121413" stroke-width="2"/><rect x="69.3" y="-29" width="1.7" height="39" fill="#121413"/><text x="76.5" y="0" font-family='"Liberation Serif", serif' font-style="italic" font-size="39.5" textLength="29" lengthAdjust="spacingAndGlyphs" fill="#121413" stroke="#fff" stroke-width="0.35">E</text><path d="M92.5 -33.2 H110.5 M105.5 -36.800000000000004 Q107.5 -34.2 111 -33.2 Q107.5 -32.2 105.5 -29.6" fill="none" stroke="#121413" stroke-width="1.7"/><text x="104" y="10.8" font-family='"Liberation Serif", serif' font-size="29" textLength="14" lengthAdjust="spacingAndGlyphs" fill="#121413" stroke="#fff" stroke-width="0.4">0</text><rect x="127.3" y="-29" width="1.9" height="39" fill="#121413"/></g>
<g opacity="0.999" transform="translate(50.6,678.6) rotate(-90) scale(1.122,1.09)"><rect x="0" y="-29" width="1.7" height="39" fill="#121413"/><text x="6.5" y="0" font-family='"Liberation Serif", serif' font-style="italic" font-size="39.5" textLength="29" lengthAdjust="spacingAndGlyphs" fill="#121413" stroke="#fff" stroke-width="0.35">E</text><path d="M10.5 -35.6 H27.5 M22.5 -39.2 Q24.5 -36.6 28 -35.6 Q24.5 -34.6 22.5 -32.0" fill="none" stroke="#121413" stroke-width="1.7"/><rect x="39.3" y="-29" width="1.7" height="39" fill="#121413"/><line x1="48.5" y1="9.5" x2="62.5" y2="-29" stroke="#121413" stroke-width="2"/><rect x="69.3" y="-29" width="1.7" height="39" fill="#121413"/><text x="76.5" y="0" font-family='"Liberation Serif", serif' font-style="italic" font-size="39.5" textLength="29" lengthAdjust="spacingAndGlyphs" fill="#121413" stroke="#fff" stroke-width="0.35">E</text><path d="M92.5 -35.6 H110.5 M105.5 -39.2 Q107.5 -36.6 111 -35.6 Q107.5 -34.6 105.5 -32.0" fill="none" stroke="#121413" stroke-width="1.7"/><text x="104" y="10.8" font-family='"Liberation Serif", serif' font-size="29" textLength="14" lengthAdjust="spacingAndGlyphs" fill="#121413" stroke="#fff" stroke-width="0.4">0</text><rect x="127.3" y="-29" width="1.9" height="39" fill="#121413"/></g>
</svg>
</body></html>
